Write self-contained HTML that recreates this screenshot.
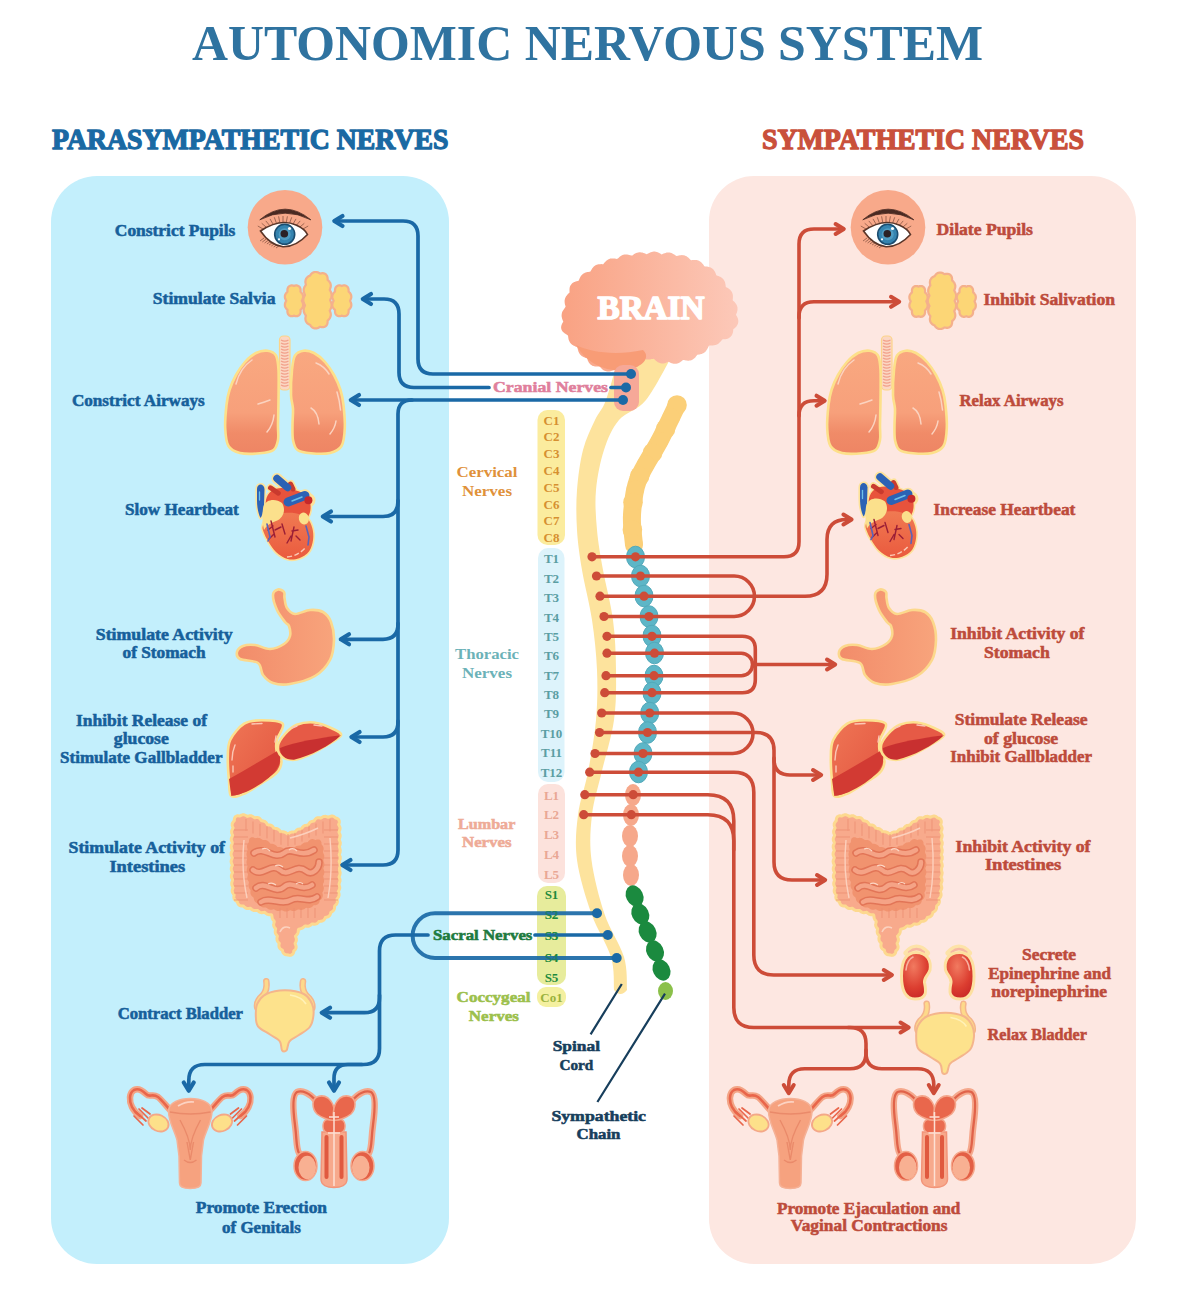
<!DOCTYPE html><html><head><meta charset="utf-8"><style>
html,body{margin:0;padding:0;background:#fff;width:1200px;height:1292px;overflow:hidden}
svg{display:block}
text{font-family:"Liberation Serif",serif}
</style></head><body>
<svg width="1200" height="1292" viewBox="0 0 1200 1292">
<rect x="51" y="176" width="398" height="1088" rx="46" fill="#c3effc"/>
<rect x="709" y="176" width="427" height="1088" rx="45" fill="#fde7e1"/>
<text x="192" y="60" font-size="51" fill="#2f73a0" text-anchor="start" font-weight="bold" textLength="791" lengthAdjust="spacingAndGlyphs" >AUTONOMIC NERVOUS SYSTEM</text>
<text x="52" y="149" font-size="28.5" fill="#1a69a3" text-anchor="start" font-weight="bold" textLength="396.5" lengthAdjust="spacingAndGlyphs" stroke="#1a69a3" stroke-width="1.3" stroke-linejoin="round">PARASYMPATHETIC NERVES</text>
<text x="762" y="149" font-size="28.5" fill="#c9503b" text-anchor="start" font-weight="bold" textLength="322" lengthAdjust="spacingAndGlyphs" stroke="#c9503b" stroke-width="1.3" stroke-linejoin="round">SYMPATHETIC NERVES</text>
<defs>
<g id="o_eye"><circle cx="285" cy="227.3" r="37.3" fill="#f8a98a"/>
<path d="M263.0,229.0 L257.8,226.0 M266.3,227.2 L261.7,223.3 M269.7,225.5 L265.8,220.9 M273.0,224.1 L270.0,218.9 M276.3,222.9 L274.3,217.3 M279.7,222.2 L278.6,216.3 M283.0,222.0 L283.0,216.0 M286.3,222.2 L287.4,216.3 M289.7,222.9 L291.7,217.3 M293.0,224.1 L296.0,218.9 M296.3,225.5 L300.2,220.9 M299.7,227.2 L304.3,223.3 M303.0,229.0 L308.2,226.0 M264.0,238.0 L260.0,241.0 M266.3,239.0 L262.3,242.0 M268.6,240.0 L264.6,243.0 M270.9,241.0 L266.9,244.0 M273.1,242.0 L269.1,245.0 M275.4,243.0 L271.4,246.0 M277.7,244.0 L273.7,247.0 M280.0,245.0 L276.0,248.0" stroke="#7a4a3a" stroke-width="0.8" opacity="0.85"/>
<path d="M259.8,219.8 Q285,198.5 310.8,219.8 Q285,206.5 259.8,219.8 Z" fill="#4a2a22" stroke="#4a2a22" stroke-width="0.8" stroke-linejoin="round"/>
<path d="M260.5,231 Q280,218 296,225 Q305,229 307.5,234.5 Q296,247 283,246.8 Q270,245 260.5,231 Z" fill="#ffffff" stroke="#5a3528" stroke-width="1.6"/>
<circle cx="284.7" cy="234.3" r="10" fill="#3584b0" stroke="#1b4d70" stroke-width="1.6"/>
<circle cx="284.7" cy="234.3" r="6" fill="#4f9cc2"/>
<circle cx="284.3" cy="233.7" r="3.8" fill="#2b2226"/>
<circle cx="289.5" cy="228.5" r="1.6" fill="#ffffff"/>
<circle cx="279" cy="239.3" r="1.1" fill="#ffffff"/></g>
<g id="o_lungs"><defs><linearGradient id="lungg" x1="0" y1="0" x2="0" y2="1"><stop offset="0" stop-color="#f9a880"/><stop offset="0.6" stop-color="#f7a07b"/><stop offset="0.8" stop-color="#f08b68"/><stop offset="1" stop-color="#ee8564"/></linearGradient></defs>
<rect x="279.5" y="336" width="10.5" height="54" rx="4" fill="#fbd7c4" stroke="#fcd48a" stroke-width="1.2"/>
<path d="M281,340 Q284.75,342.2 288.5,340 M281,343 Q284.75,345.2 288.5,343 M281,346 Q284.75,348.2 288.5,346 M281,349 Q284.75,351.2 288.5,349 M281,352 Q284.75,354.2 288.5,352 M281,355 Q284.75,357.2 288.5,355 M281,358 Q284.75,360.2 288.5,358 M281,361 Q284.75,363.2 288.5,361 M281,364 Q284.75,366.2 288.5,364 M281,367 Q284.75,369.2 288.5,367 M281,370 Q284.75,372.2 288.5,370 M281,373 Q284.75,375.2 288.5,373 M281,376 Q284.75,378.2 288.5,376 M281,379 Q284.75,381.2 288.5,379 M281,382 Q284.75,384.2 288.5,382 M281,385 Q284.75,387.2 288.5,385" stroke="#f2a08a" stroke-width="1.3" fill="none"/>
<path d="M267.5,350.7 C270.8,351.1 274.2,352.3 276,355.5 C277.8,358.7 278.1,362.6 278.5,370 C278.9,377.4 278.6,390.8 278.5,400 C278.4,409.2 278.1,418.3 278,425 C277.9,431.7 278.8,435.8 278,440 C277.2,444.2 276.5,447.8 273.5,450 C270.5,452.2 265.6,452.8 260,453.3 C254.4,453.8 245.2,454.2 240,453 C234.8,451.8 231.0,450.2 228.5,446 C226.0,441.8 225.5,434.8 225.2,428 C224.9,421.2 225.8,411.3 226.5,405 C227.2,398.7 227.9,395.0 229.5,390 C231.1,385.0 233.4,379.7 236,375 C238.6,370.3 241.7,365.7 245,362 C248.3,358.3 252.2,354.9 256,353 C259.8,351.1 264.2,350.3 267.5,350.7 Z" fill="url(#lungg)" stroke="#fde08a" stroke-width="2.6"/>
<path d="M303.7,350.7 C300.5,351.1 296.9,352.3 295,355.5 C293.1,358.7 292.7,363.4 292,370 C291.3,376.6 290.8,388.5 291,395 C291.2,401.5 292.8,404.0 293,409 C293.2,414.0 292.5,419.8 292.5,425 C292.5,430.2 292.2,435.8 293,440 C293.8,444.2 294.5,447.8 297.5,450 C300.5,452.2 305.6,452.8 311,453.3 C316.4,453.8 324.9,454.2 330,453 C335.1,451.8 339.0,450.2 341.5,446 C344.0,441.8 344.5,434.8 344.8,428 C345.1,421.2 344.2,411.3 343.5,405 C342.8,398.7 342.1,395.0 340.5,390 C338.9,385.0 336.6,379.7 334,375 C331.4,370.3 328.3,365.7 325,362 C321.7,358.3 317.6,354.9 314,353 C310.4,351.1 306.9,350.3 303.7,350.7 Z" fill="url(#lungg)" stroke="#fde08a" stroke-width="2.6"/>
<path d="M236,384 Q240,368 252,360 M258,404 Q265,402 270,400 M274,415 Q273,425 267,432 M316,363 Q324,366 329,374 M337,392 Q339.5,400 340.5,410 M311,408 Q318,412 319,424 M336,421 Q335,428 330,434" stroke="#fbd3c0" stroke-width="1.5" fill="none" stroke-linecap="round"/></g>
<g id="o_heart"><g fill="#fde29a" stroke="#fde29a" stroke-width="3.2" stroke-linejoin="round" stroke-linecap="round">
<path d="M262.8,525.7 C263.6,523.1 265.4,518.5 268.2,516.4 C271.0,514.3 275.3,513.8 279.8,513.3 C284.3,512.8 290.8,512.5 295.3,513.3 C299.8,514.1 304.1,515.5 306.9,518 C309.7,520.5 311.3,524.4 312.3,528 C313.3,531.6 313.6,535.7 313.1,539.6 C312.6,543.5 311.5,548.1 309.2,551.2 C306.9,554.3 302.8,556.9 299.2,558.2 C295.6,559.5 291.5,560.0 287.6,559 C283.7,558.0 279.2,555.0 276,552 C272.8,549.0 270.3,544.6 268.2,541.2 C266.1,537.9 264.5,534.5 263.6,531.9 C262.7,529.3 262.0,528.3 262.8,525.7 Z"/><path d="M266,500 C268,490 278,486 288,489 C298,490 307,493 310,502 C312,510 309,518 304,521 L268,522 C265,514 265,506 266,500 Z"/><path d="M257,489 C257,483 264,483 264.5,489 L264,505 C263.5,512 262,516 260.5,518 C258.5,514 257,508 257,500 Z"/>
<path d="M277,478.5 L287.5,487.5" stroke-width="11"/><path d="M288,502 L305,495.5" stroke-width="12.5"/><circle cx="308.4" cy="500.2" r="5.5"/><path d="M270.5,487.8 L278.3,493.2 M290.6,484 L293,489" stroke-width="8"/>
</g>
<defs><linearGradient id="hrtg" x1="0" y1="0" x2="0" y2="1"><stop offset="0" stop-color="#f07a52"/><stop offset="1" stop-color="#ea5a3e"/></linearGradient></defs>
<path d="M266,500 C268,490 278,486 288,489 C298,490 307,493 310,502 C312,510 309,518 304,521 L268,522 C265,514 265,506 266,500 Z" fill="#e8533c"/>
<path d="M262.8,525.7 C263.6,523.1 265.4,518.5 268.2,516.4 C271.0,514.3 275.3,513.8 279.8,513.3 C284.3,512.8 290.8,512.5 295.3,513.3 C299.8,514.1 304.1,515.5 306.9,518 C309.7,520.5 311.3,524.4 312.3,528 C313.3,531.6 313.6,535.7 313.1,539.6 C312.6,543.5 311.5,548.1 309.2,551.2 C306.9,554.3 302.8,556.9 299.2,558.2 C295.6,559.5 291.5,560.0 287.6,559 C283.7,558.0 279.2,555.0 276,552 C272.8,549.0 270.3,544.6 268.2,541.2 C266.1,537.9 264.5,534.5 263.6,531.9 C262.7,529.3 262.0,528.3 262.8,525.7 Z" fill="url(#hrtg)"/>
<path d="M270.5,487.8 L278.3,493.2 M290.6,484 L293,489" stroke="#c93a2e" stroke-width="5" stroke-linecap="round"/>
<path d="M257,489 C257,483 264,483 264.5,489 L264,505 C263.5,512 262,516 260.5,518 C258.5,514 257,508 257,500 Z" fill="#2c62b5"/>
<path d="M259.5,492 L259.5,500" stroke="#6ec0ea" stroke-width="1.3" stroke-linecap="round"/>
<path d="M277,478.5 L287.5,487.5" stroke="#2c62b5" stroke-width="7.5" stroke-linecap="round"/>
<path d="M288,502 L305,495.5" stroke="#2c62b5" stroke-width="9" stroke-linecap="round"/>
<path d="M292,501 L302,497" stroke="#6ec0ea" stroke-width="1.5" stroke-linecap="round"/>
<circle cx="308.4" cy="500.2" r="4" fill="#c6282a"/>
<path d="M263.5,506 C266,499 276,498 282,503 C286,509 284,518 276,521 C270,523 266,526 264,530 C262,522 262,512 263.5,506 Z" fill="#fbe08c"/>
<ellipse cx="303.8" cy="518.5" rx="5" ry="6" fill="#fbe08c" transform="rotate(-15 303.8 518.5)"/>
<path d="M271,521 L275,537 M273,526 L268,530 M275,530 L281,527 M274,534 L269,539 M282,524 L285,534 M294,527 L291,541 M292,531 L298,530 M291,536 L287,543 M296,536 L300,540" stroke="#9a1e36" stroke-width="1.4" fill="none" stroke-linecap="round"/>
<path d="M267,524 L270,537 L268,541 M306,526 L309,537 L308,545" stroke="#5a63b8" stroke-width="1.6" fill="none" stroke-linecap="round"/>
<path d="M287,557 Q298,556 305,548" stroke="#fbc9b5" stroke-width="1.5" fill="none" stroke-dasharray="5 2.5"/></g>
<g id="o_stomach"><defs><linearGradient id="stg" x1="0" x2="1"><stop offset="0" stop-color="#f28c6a"/><stop offset="1" stop-color="#f8a47c"/></linearGradient></defs><path d="M278,589.5 C279.8,589.0 282.9,590.6 284,592 C285.1,593.4 284.0,595.3 284.5,598 C285.0,600.7 285.2,605.3 287,608 C288.8,610.7 291.2,613.7 295,614 C298.8,614.3 305.3,610.3 310,610 C314.7,609.7 319.5,610.0 323,612 C326.5,614.0 329.2,617.3 331,622 C332.8,626.7 334.2,633.7 334,640 C333.8,646.3 333.2,654.0 330,660 C326.8,666.0 321.7,672.0 315,676 C308.3,680.0 297.0,682.8 290,684 C283.0,685.2 277.5,684.5 273,683 C268.5,681.5 265.5,678.3 263,675 C260.5,671.7 261.8,665.7 258,663 C254.2,660.3 243.5,660.8 240,659 C236.5,657.2 236.5,654.2 237,652 C237.5,649.8 240.0,647.2 243,646 C246.0,644.8 250.5,644.5 255,645 C259.5,645.5 265.2,649.2 270,649 C274.8,648.8 280.7,646.2 284,644 C287.3,641.8 289.2,639.0 290,636 C290.8,633.0 289.8,628.3 289,626 C288.2,623.7 287.0,624.7 285,622 C283.0,619.3 279.0,614.5 277,610 C275.0,605.5 272.8,598.4 273,595 C273.2,591.6 276.2,590.0 278,589.5 Z" fill="url(#stg)" stroke="#fcd88c" stroke-width="2.6" stroke-linejoin="round"/></g>
<g id="o_liver"><defs><linearGradient id="livg" x1="0" y1="0" x2="1" y2="1"><stop offset="0" stop-color="#ef7655"/><stop offset="1" stop-color="#e2533f"/></linearGradient></defs>
<path d="M282.7,723.7 C280.2,720.4 268.1,720.2 261.7,720.2 C255.3,720.2 249.4,720.4 244.2,723.7 C238.9,727.0 232.9,734.4 230.2,740 C227.5,745.6 228.0,750.7 227.8,757.5 C227.6,764.3 228.4,774.4 229,780.8 C229.6,787.2 228.8,793.9 231.3,796 C233.8,798.1 239.1,795.8 244.2,793.7 C249.3,791.6 256.3,786.7 261.7,783.2 C267.1,779.7 273.5,776.4 276.8,772.7 C280.1,769.0 281.5,764.5 281.5,761 C281.5,757.5 277.6,755.2 276.8,751.7 C276.0,748.2 275.8,744.7 276.8,740 C277.8,735.3 285.2,727.0 282.7,723.7 Z" fill="url(#livg)" stroke="#fde08f" stroke-width="2.6"/>
<path d="M229,779 C245,770 262,760 279,750 C283,762 278,772 262,783 C250,791 240,795 231.3,796 Z" fill="#d23a33"/>
<path d="M285,734 C288.1,730.5 291.8,726.7 296.7,724.8 C301.6,722.9 308.4,721.9 314.2,722.5 C320.0,723.1 327.2,726.2 331.7,728.3 C336.2,730.4 342.0,732.4 341,735.3 C340.0,738.2 331.2,742.5 325.8,745.8 C320.4,749.1 313.6,752.9 308.3,755.2 C303.1,757.5 298.8,759.6 294.3,759.8 C289.8,760.0 284.2,758.6 281.5,756.3 C278.8,754.0 277.4,749.5 278,745.8 C278.6,742.1 281.9,737.5 285,734 Z" fill="#e65a46" stroke="#fde08f" stroke-width="2.6"/>
<path d="M280,748 C295,742 320,738 341,735.3 C330,746 310,756 294,759.8 C285,760 280,755 280,748 Z" fill="#c83030"/>
<path d="M252,724 L262,723.5 M235,745 Q232,752 232,760 M233,766 L233,772 M276,736 L275,742 M292,728 L297,726 M314,725 L322,726" stroke="#fbc7b5" stroke-width="1.4" fill="none" stroke-linecap="round"/></g>
<g id="o_int"><path d="M239.8,816.1 L240.1,815.9 L240.5,815.6 L240.9,815.4 L241.4,815.1 L241.9,815.0 L242.5,814.8 L243.1,814.7 L243.7,814.7 L244.3,814.9 L244.9,815.1 L245.5,815.3 L246.2,815.7 L246.8,816.2 L247.5,816.4 L248.2,816.1 L249.0,815.9 L249.7,815.8 L250.4,815.7 L251.1,815.8 L251.8,816.0 L252.4,816.3 L253.0,816.7 L253.6,817.1 L254.1,817.5 L254.7,817.8 L255.3,817.7 L255.9,817.6 L256.5,817.5 L257.0,817.5 L257.5,817.5 L257.9,817.6 L258.4,817.7 L258.8,817.9 L259.2,818.1 L259.6,818.4 L260.0,818.8 L260.3,819.2 L260.6,819.6 L260.9,820.1 L261.2,820.6 L261.7,820.8 L262.2,820.8 L262.8,820.9 L263.3,821.0 L263.8,821.1 L264.3,821.3 L264.8,821.5 L265.2,821.8 L265.6,822.1 L266.0,822.5 L266.3,822.9 L266.6,823.3 L266.9,823.8 L267.2,824.3 L267.5,824.8 L267.9,824.9 L268.5,824.9 L269.0,824.9 L269.5,825.0 L270.0,825.0 L270.5,825.2 L271.0,825.3 L271.5,825.6 L272.0,825.9 L272.5,826.4 L273.0,826.9 L273.4,827.5 L273.8,828.2 L274.5,828.5 L275.4,828.5 L276.2,828.5 L277.0,828.7 L277.7,829.0 L278.4,829.3 L279.0,829.8 L279.6,830.4 L280.1,831.1 L280.6,831.8 L281.5,831.8 L282.3,831.8 L283.1,831.8 L283.8,831.9 L284.4,832.0 L285.0,832.3 L285.6,832.6 L286.1,832.9 L286.6,833.3 L287.1,833.7 L287.6,834.0 L288.1,833.9 L288.6,833.6 L289.0,833.3 L289.5,833.0 L290.0,832.7 L290.6,832.4 L291.2,832.2 L291.8,832.1 L292.5,832.0 L293.3,832.1 L294.1,832.1 L294.9,832.1 L295.4,831.4 L296.0,830.8 L296.5,830.2 L297.1,829.7 L297.8,829.3 L298.6,829.1 L299.4,828.9 L300.2,828.9 L301.1,828.8 L301.7,828.5 L302.2,827.8 L302.6,827.2 L303.1,826.6 L303.6,826.2 L304.2,825.9 L304.7,825.6 L305.3,825.5 L305.8,825.4 L306.3,825.3 L306.9,825.3 L307.4,825.3 L307.9,825.3 L308.2,824.9 L308.5,824.4 L308.8,823.9 L309.1,823.5 L309.4,823.1 L309.7,822.7 L310.1,822.3 L310.5,822.0 L310.9,821.8 L311.4,821.6 L311.9,821.4 L312.5,821.3 L313.0,821.2 L313.6,821.1 L314.1,821.0 L314.4,820.5 L314.7,820.0 L315.0,819.6 L315.3,819.2 L315.7,818.8 L316.0,818.5 L316.4,818.2 L316.9,818.0 L317.3,817.8 L317.8,817.7 L318.3,817.7 L318.8,817.7 L319.2,817.7 L319.8,817.8 L320.3,818.0 L320.9,818.2 L321.4,817.8 L322.0,817.4 L322.6,817.0 L323.2,816.7 L323.8,816.5 L324.5,816.4 L325.2,816.3 L326.0,816.5 L326.7,816.7 L327.5,817.0 L328.2,817.3 L328.9,817.0 L329.6,816.6 L330.3,816.4 L331.0,816.2 L331.7,816.1 L332.3,816.1 L333.0,816.2 L333.6,816.4 L334.1,816.7 L334.6,817.1 L335.1,817.5 L335.4,817.9 L335.8,818.1 L336.3,818.1 L336.7,818.2 L337.1,818.4 L337.5,818.6 L337.9,818.8 L338.2,819.1 L338.5,819.5 L338.8,819.9 L339.0,820.3 L339.2,820.7 L339.3,821.2 L339.3,821.7 L339.3,822.2 L339.2,822.8 L339.1,823.3 L338.9,823.9 L338.6,824.5 L338.9,825.1 L339.2,825.7 L339.5,826.3 L339.8,826.9 L340.0,827.6 L340.1,828.3 L340.0,829.1 L339.8,829.9 L339.5,830.7 L339.1,831.5 L339.0,832.3 L339.4,833.2 L339.8,834.1 L340.1,835.0 L340.2,836.0 L340.0,837.0 L339.6,838.3 L339.1,839.7 L339.8,841.2 L340.3,842.8 L340.1,844.6 L339.3,846.4 L339.8,848.4 L340.3,850.4 L340.0,852.5 L339.2,854.7 L340.2,856.9 L340.2,859.2 L339.2,861.4 L340.0,863.7 L340.3,866.0 L339.5,868.3 L339.6,870.6 L340.2,872.8 L339.8,875.0 L339.0,877.1 L339.9,879.2 L340.0,881.1 L339.3,883.0 L339.0,884.8 L339.6,886.5 L339.8,888.0 L339.4,889.4 L338.8,890.6 L338.3,891.7 L338.7,892.8 L339.0,893.8 L339.1,894.8 L339.0,895.7 L338.7,896.6 L338.2,897.4 L337.6,898.2 L337.0,898.9 L337.2,899.8 L337.3,900.7 L337.4,901.5 L337.3,902.3 L337.1,903.0 L336.8,903.7 L336.4,904.3 L335.8,904.8 L335.3,905.3 L334.7,905.8 L334.6,906.4 L334.6,907.1 L334.5,907.8 L334.5,908.4 L334.3,909.0 L334.1,909.5 L333.8,910.0 L333.5,910.5 L333.2,910.8 L332.7,911.2 L332.3,911.5 L331.9,911.8 L331.4,912.1 L330.9,912.3 L330.7,912.8 L330.6,913.4 L330.4,914.0 L330.2,914.5 L330.0,915.0 L329.6,915.5 L329.3,915.9 L328.8,916.3 L328.3,916.6 L327.8,916.9 L327.2,917.1 L326.6,917.2 L325.9,917.3 L325.4,917.5 L325.1,918.1 L324.8,918.7 L324.4,919.2 L324.1,919.7 L323.7,920.1 L323.2,920.5 L322.8,920.7 L322.3,921.0 L321.7,921.1 L321.2,921.3 L320.6,921.3 L320.1,921.4 L319.5,921.4 L319.0,921.5 L318.7,921.9 L318.3,922.4 L317.9,922.8 L317.4,923.3 L316.8,923.6 L316.2,923.9 L315.5,924.1 L314.8,924.2 L314.0,924.2 L313.2,924.0 L312.4,923.9 L311.7,924.2 L311.0,924.8 L310.4,925.3 L309.7,925.7 L309.0,926.0 L308.2,926.2 L307.5,926.2 L306.7,926.2 L305.9,926.0 L305.1,925.9 L304.5,926.3 L304.0,926.8 L303.5,927.2 L303.1,927.6 L302.6,927.9 L302.2,928.2 L301.8,928.4 L301.4,928.5 L301.1,928.6 L300.8,928.7 L300.5,928.8 L300.1,928.9 L299.8,928.9 L299.4,929.0 L299.1,929.2 L298.7,929.3 L298.5,929.5 L298.4,929.9 L298.4,930.3 L298.3,930.7 L298.3,931.0 L298.3,931.4 L298.2,931.7 L298.2,932.0 L298.1,932.3 L298.0,932.7 L297.9,933.0 L297.8,933.2 L297.7,933.5 L297.5,933.8 L297.3,934.1 L297.1,934.4 L296.9,934.6 L296.7,934.9 L296.4,935.2 L296.2,935.4 L296.0,935.7 L295.7,935.9 L295.5,936.2 L295.6,936.6 L295.8,936.9 L295.9,937.3 L296.0,937.7 L296.2,938.2 L296.3,938.6 L296.3,939.1 L296.4,939.6 L296.4,940.1 L296.3,940.6 L296.1,941.1 L296.0,941.6 L295.7,942.2 L295.4,942.7 L295.1,943.2 L295.1,943.8 L295.4,944.3 L295.6,944.9 L295.8,945.4 L296.0,946.0 L296.1,946.5 L296.1,947.0 L296.1,947.5 L296.0,947.9 L295.9,948.4 L295.7,948.8 L295.5,949.2 L295.3,949.5 L295.0,949.8 L294.8,950.1 L294.6,950.3 L294.3,950.5 L294.0,950.7 L293.8,950.9 L293.8,951.3 L293.8,951.6 L293.7,952.0 L293.6,952.3 L293.5,952.7 L293.4,953.0 L293.2,953.3 L293.0,953.6 L292.8,953.9 L292.6,954.2 L292.3,954.4 L292.0,954.6 L291.8,954.8 L291.5,955.0 L291.2,955.1 L290.8,955.2 L290.5,955.3 L290.2,955.3 L289.9,955.4 L289.6,955.3 L289.3,955.3 L289.0,955.3 L288.7,955.2 L288.5,955.1 L288.3,955.0 L288.1,954.9 L287.9,954.8 L287.7,954.8 L287.4,954.9 L287.1,954.9 L286.8,954.8 L286.4,954.8 L286.1,954.8 L285.7,954.7 L285.4,954.6 L285.0,954.4 L284.7,954.2 L284.4,954.0 L284.0,953.8 L283.7,953.5 L283.5,953.2 L283.2,952.8 L283.0,952.4 L282.8,952.0 L282.7,951.6 L282.6,951.1 L282.5,950.7 L282.4,950.2 L282.1,949.9 L281.6,949.7 L281.2,949.5 L280.8,949.2 L280.4,948.9 L280.1,948.6 L279.8,948.3 L279.6,947.9 L279.3,947.5 L279.2,947.1 L279.0,946.6 L279.0,946.0 L278.9,945.4 L279.0,944.7 L279.1,944.0 L279.3,943.3 L278.8,942.8 L278.2,942.2 L277.8,941.6 L277.4,940.9 L277.1,940.2 L277.0,939.4 L276.9,938.7 L277.0,937.9 L277.2,937.0 L277.4,936.2 L277.0,935.6 L276.5,934.9 L276.0,934.3 L275.6,933.6 L275.4,933.0 L275.3,932.3 L275.2,931.7 L275.3,931.1 L275.3,930.5 L275.5,929.9 L275.6,929.3 L275.7,928.8 L275.3,928.4 L275.0,928.0 L274.6,927.6 L274.4,927.1 L274.1,926.7 L273.9,926.2 L273.7,925.7 L273.7,925.2 L273.6,924.6 L273.7,924.1 L273.8,923.5 L273.9,923.0 L274.1,922.4 L274.3,921.9 L274.2,921.3 L273.9,920.9 L273.5,920.4 L273.2,920.0 L272.9,919.6 L272.7,919.2 L272.5,918.8 L272.3,918.4 L272.2,918.0 L272.1,917.6 L272.0,917.3 L272.0,916.9 L272.0,916.5 L271.9,916.1 L271.9,915.8 L271.8,915.4 L271.7,915.0 L271.4,914.8 L270.9,914.8 L270.5,914.7 L270.0,914.7 L269.5,914.7 L269.0,914.7 L268.6,914.6 L268.1,914.5 L267.6,914.4 L267.1,914.1 L266.6,913.8 L266.1,913.5 L265.6,913.1 L265.1,912.6 L264.7,912.2 L264.0,912.4 L263.3,912.5 L262.7,912.6 L262.1,912.7 L261.5,912.7 L260.9,912.6 L260.3,912.4 L259.8,912.2 L259.3,911.9 L258.8,911.6 L258.3,911.2 L257.9,910.8 L257.5,910.4 L257.0,910.4 L256.5,910.5 L256.0,910.6 L255.4,910.6 L254.8,910.6 L254.2,910.6 L253.6,910.5 L253.0,910.2 L252.4,909.9 L251.8,909.5 L251.2,909.0 L250.7,908.5 L250.0,908.2 L249.2,908.4 L248.4,908.5 L247.7,908.5 L247.0,908.5 L246.3,908.3 L245.6,908.0 L245.0,907.6 L244.5,907.1 L243.9,906.6 L243.5,906.0 L242.9,905.9 L242.2,905.9 L241.5,905.9 L240.9,905.9 L240.4,905.7 L239.9,905.6 L239.4,905.3 L239.0,905.0 L238.7,904.7 L238.4,904.4 L238.2,904.0 L238.0,903.6 L237.8,903.2 L237.6,902.8 L237.5,902.4 L237.4,901.9 L237.2,901.5 L236.8,901.3 L236.4,901.1 L236.0,900.9 L235.6,900.6 L235.2,900.3 L234.9,899.9 L234.6,899.6 L234.3,899.1 L234.1,898.7 L234.0,898.2 L233.9,897.7 L233.8,897.1 L233.9,896.5 L234.0,895.9 L234.1,895.3 L234.1,894.7 L233.7,894.2 L233.3,893.7 L232.9,893.1 L232.6,892.5 L232.3,891.9 L232.2,891.2 L232.2,890.3 L232.4,889.4 L232.8,888.4 L233.1,887.3 L232.4,886.2 L231.9,885.1 L231.7,883.8 L231.8,882.5 L232.3,881.2 L232.6,879.8 L231.9,878.4 L231.4,877.0 L231.4,875.5 L231.9,874.0 L232.6,872.6 L231.8,871.1 L231.3,869.6 L231.3,868.2 L231.7,866.7 L232.4,865.3 L231.8,863.9 L231.3,862.6 L231.1,861.2 L231.4,860.0 L231.9,858.7 L232.3,857.6 L231.7,856.5 L231.3,855.5 L231.1,854.5 L231.1,853.6 L231.3,852.6 L231.7,851.6 L232.3,850.5 L231.9,849.4 L231.5,848.3 L231.2,847.1 L231.2,846.0 L231.5,844.8 L232.1,843.6 L232.3,842.4 L231.7,841.2 L231.3,839.9 L231.3,838.7 L231.6,837.5 L232.2,836.4 L232.6,835.2 L232.1,834.0 L231.7,832.9 L231.6,831.8 L231.7,830.7 L232.1,829.7 L232.6,828.8 L233.1,827.9 L232.7,827.0 L232.4,826.1 L232.2,825.3 L232.2,824.6 L232.2,823.9 L232.4,823.4 L232.6,822.9 L232.9,822.4 L233.2,822.0 L233.5,821.6 L233.8,821.2 L234.2,820.9 L234.4,820.5 L234.3,820.1 L234.3,819.6 L234.4,819.2 L234.4,818.8 L234.5,818.4 L234.6,818.0 L234.8,817.7 L235.0,817.4 L235.2,817.1 L235.4,816.8 L235.7,816.6 L236.0,816.3 L236.3,816.2 L236.7,816.0 L237.0,815.9 L237.3,815.9 L237.7,815.8 L238.0,815.8 L238.4,815.8 L238.7,815.9 L239.1,815.9 L239.4,816.0 Z" fill="#f8aa8c" stroke="#fdd98f" stroke-width="3" stroke-linejoin="round"/>
<path d="M249.0,842.0 L248.9,841.2 L249.0,840.5 L249.1,839.8 L249.3,839.2 L249.6,838.6 L250.0,838.1 L250.5,837.8 L251.0,837.5 L251.5,837.3 L252.1,837.2 L252.7,837.2 L253.2,837.3 L253.7,837.4 L254.2,837.7 L254.7,837.9 L255.2,838.2 L255.7,838.0 L256.3,837.9 L256.9,837.9 L257.4,837.8 L258.0,837.8 L258.5,837.9 L259.0,838.0 L259.5,838.1 L260.0,838.3 L260.5,838.5 L260.9,838.8 L261.3,839.0 L261.7,839.3 L262.1,839.6 L262.5,839.8 L262.9,840.1 L263.3,840.1 L263.8,840.1 L264.4,840.0 L264.9,840.0 L265.4,840.1 L265.9,840.1 L266.4,840.3 L266.9,840.4 L267.3,840.6 L267.7,840.9 L268.2,841.2 L268.5,841.5 L268.9,841.9 L269.3,842.3 L269.6,842.7 L269.9,843.2 L270.2,843.6 L270.8,843.7 L271.3,843.7 L271.8,843.8 L272.4,843.8 L272.9,843.9 L273.3,844.0 L273.8,844.2 L274.2,844.4 L274.6,844.6 L275.0,844.8 L275.4,845.0 L275.8,845.3 L276.2,845.6 L276.5,846.0 L276.9,846.3 L277.2,846.7 L277.6,847.1 L278.1,847.0 L278.6,847.0 L279.1,847.0 L279.6,847.1 L280.1,847.1 L280.6,847.2 L281.0,847.3 L281.4,847.4 L281.9,847.6 L282.3,847.8 L282.7,848.0 L283.0,848.2 L283.4,848.5 L283.8,848.7 L284.2,849.0 L284.5,849.3 L284.9,849.6 L285.4,849.7 L285.8,849.6 L286.3,849.4 L286.7,849.3 L287.1,849.2 L287.6,849.0 L288.0,848.9 L288.4,848.8 L288.8,848.7 L289.2,848.7 L289.6,848.6 L290.1,848.6 L290.5,848.6 L291.0,848.7 L291.5,848.7 L292.1,848.8 L292.6,848.8 L293.1,848.8 L293.5,848.4 L293.9,848.0 L294.3,847.6 L294.7,847.2 L295.1,846.9 L295.6,846.6 L296.0,846.3 L296.5,846.1 L297.0,846.0 L297.5,845.8 L298.0,845.7 L298.5,845.7 L299.1,845.6 L299.6,845.6 L300.2,845.6 L300.6,845.4 L301.0,845.0 L301.4,844.7 L301.7,844.3 L302.1,844.0 L302.5,843.7 L302.8,843.4 L303.2,843.2 L303.6,843.0 L304.1,842.8 L304.5,842.6 L305.0,842.5 L305.5,842.4 L306.0,842.3 L306.5,842.2 L307.0,842.2 L307.5,842.2 L307.9,841.9 L308.2,841.5 L308.5,841.1 L308.9,840.8 L309.2,840.4 L309.6,840.1 L309.9,839.9 L310.3,839.6 L310.7,839.4 L311.1,839.3 L311.6,839.2 L312.0,839.1 L312.4,839.1 L312.8,839.1 L313.2,839.2 L313.6,839.2 L314.0,839.4 L314.4,839.5 L314.7,839.7 L315.0,839.9 L315.3,840.0 L315.7,839.9 L316.0,839.8 L316.3,839.7 L316.7,839.6 L317.0,839.5 L317.4,839.4 L317.7,839.4 L318.1,839.4 L318.5,839.5 L318.8,839.5 L319.2,839.6 L319.6,839.8 L319.9,840.0 L320.2,840.3 L320.5,840.6 L320.8,840.9 L321.0,841.3 L321.2,841.7 L321.4,842.2 L321.5,842.7 L321.5,843.2 L321.5,843.7 L321.5,844.3 L321.9,844.7 L322.3,845.3 L322.7,845.8 L323.1,846.5 L323.4,847.2 L323.6,848.0 L323.6,848.9 L323.6,849.8 L323.3,850.8 L323.0,851.9 L323.2,852.9 L323.7,854.0 L324.1,855.1 L324.3,856.2 L324.2,857.4 L323.9,858.6 L323.4,859.8 L323.5,861.0 L324.0,862.2 L324.3,863.4 L324.4,864.7 L324.2,865.9 L323.8,867.1 L323.3,868.3 L323.7,869.5 L324.1,870.7 L324.3,871.8 L324.3,873.0 L324.1,874.1 L323.7,875.1 L323.2,876.1 L323.3,877.1 L323.7,878.0 L323.9,878.9 L324.1,879.8 L324.1,880.7 L324.0,881.6 L323.8,882.4 L323.4,883.3 L323.0,884.1 L323.0,885.0 L323.3,885.8 L323.6,886.6 L323.8,887.4 L323.8,888.3 L323.8,889.1 L323.6,889.8 L323.4,890.6 L323.0,891.3 L322.7,892.0 L322.3,892.7 L322.5,893.4 L322.7,894.2 L322.8,894.9 L322.8,895.6 L322.7,896.3 L322.6,897.0 L322.3,897.6 L322.0,898.2 L321.6,898.8 L321.2,899.2 L320.7,899.7 L320.1,900.1 L319.8,900.6 L319.7,901.2 L319.5,901.8 L319.3,902.4 L319.0,902.9 L318.7,903.4 L318.3,903.8 L317.9,904.2 L317.4,904.6 L316.9,904.8 L316.3,905.0 L315.7,905.2 L315.1,905.3 L314.5,905.3 L313.9,905.3 L313.4,905.6 L313.0,906.1 L312.5,906.5 L312.0,906.9 L311.5,907.3 L311.0,907.6 L310.4,907.8 L309.8,908.0 L309.1,908.1 L308.5,908.1 L307.8,908.0 L307.1,907.9 L306.4,907.8 L305.7,908.0 L305.1,908.4 L304.5,908.9 L303.8,909.3 L303.1,909.6 L302.4,909.8 L301.6,909.9 L300.8,909.9 L299.9,909.8 L299.0,909.6 L298.1,909.4 L297.3,909.8 L296.5,910.3 L295.7,910.7 L294.8,910.9 L293.9,911.0 L293.0,911.0 L292.1,910.9 L291.2,910.6 L290.3,910.2 L289.4,910.5 L288.5,910.9 L287.6,911.2 L286.7,911.4 L285.8,911.5 L285.0,911.4 L284.1,911.2 L283.2,910.8 L282.4,910.4 L281.6,910.3 L280.7,910.6 L279.9,910.8 L279.1,911.0 L278.3,911.0 L277.5,910.9 L276.7,910.7 L275.9,910.4 L275.1,910.0 L274.4,909.5 L273.6,909.3 L272.7,909.5 L271.8,909.7 L270.9,909.7 L270.1,909.7 L269.3,909.5 L268.5,909.2 L267.8,908.8 L267.1,908.2 L266.4,907.7 L265.7,907.4 L264.8,907.5 L264.0,907.5 L263.1,907.4 L262.4,907.2 L261.6,906.9 L261.0,906.4 L260.4,905.9 L259.9,905.3 L259.4,904.7 L259.0,904.0 L258.4,903.6 L257.7,903.4 L256.9,903.1 L256.3,902.7 L255.7,902.3 L255.2,901.8 L254.7,901.3 L254.4,900.7 L254.1,900.0 L253.9,899.3 L253.8,898.5 L253.7,897.8 L253.1,897.3 L252.5,896.8 L252.0,896.2 L251.5,895.7 L251.0,895.0 L250.7,894.3 L250.5,893.6 L250.4,892.7 L250.4,891.9 L250.5,891.0 L250.6,890.1 L250.0,889.4 L249.5,888.7 L249.0,887.9 L248.7,887.0 L248.5,886.1 L248.4,885.1 L248.6,884.1 L248.8,883.1 L248.9,882.0 L248.3,881.0 L247.7,879.9 L247.4,878.7 L247.3,877.4 L247.6,876.1 L248.0,874.6 L247.6,873.2 L247.0,871.8 L246.7,870.3 L246.9,868.7 L247.3,867.1 L247.5,865.6 L246.8,864.0 L246.5,862.4 L246.6,860.8 L247.1,859.2 L247.4,857.7 L246.8,856.2 L246.5,854.7 L246.6,853.2 L247.0,851.8 L247.6,850.4 L247.5,849.1 L247.1,847.8 L247.0,846.6 L247.1,845.4 L247.4,844.4 L247.9,843.5 L248.4,842.7 Z" fill="#f1936f"/>
<path d="M234,830 L248,830 M324,830 L338,830 M234,837 L248,837 M324,837 L338,837 M234,844 L248,844 M324,844 L338,844 M234,851 L248,851 M324,851 L338,851 M234,858 L248,858 M324,858 L338,858 M234,865 L248,865 M324,865 L338,865 M234,872 L248,872 M324,872 L338,872 M234,879 L248,879 M324,879 L338,879 M234,886 L248,886 M324,886 L338,886 M234,893 L248,893 M324,893 L338,893 M234,900 L248,900 M324,900 L338,900 M246,819.0 L246,831.0 M253,821.5 L253,833.5 M260,823.9 L260,835.9 M267,826.4 L267,838.4 M274,829.6 L274,841.6 M281,832.8 L281,844.8 M288,834.0 L288,846.0 M295,832.8 L295,844.8 M302,829.6 L302,841.6 M309,825.7 L309,837.7 M316,823.6 L316,835.6 M323,821.5 L323,833.5 M330,819.4 L330,831.4 M280,908 L280,918 M287,908 L287,918 M294,908 L294,918 M301,908 L301,918 M308,908 L308,918 M315,908 L315,918" stroke="#ec8d70" stroke-width="1" opacity="0.75"/>
<path d="M244,840 Q241,870 247,898 M330,838 Q333,870 328,898 M290,838 Q306,834 318,828" stroke="#fcd0bd" stroke-width="1.4" fill="none"/>
<path d="M254,853 C264,845 274,861 284,853 C292,846 300,859 314,850 M253,870 C262,878 271,862 280,870 C288,878 296,863 306,871 C312,876 319,869 319,862 M256,888 C265,880 275,895 284,887 C292,879 301,893 312,885 M261,902 C270,896 281,906 291,900 C300,895 308,904 317,897" stroke="#e27557" stroke-width="7.5" fill="none" stroke-linecap="round"/>
<path d="M254,853 C264,845 274,861 284,853 C292,846 300,859 314,850 M253,870 C262,878 271,862 280,870 C288,878 296,863 306,871 C312,876 319,869 319,862 M256,888 C265,880 275,895 284,887 C292,879 301,893 312,885 M261,902 C270,896 281,906 291,900 C300,895 308,904 317,897" stroke="#f5a386" stroke-width="4.5" fill="none" stroke-linecap="round"/>
<path d="M262,849 Q266,847 270,851 M289,850 Q293,847 297,851 M275,866 Q279,864 283,867 M268,884 Q272,882 276,885 M296,884 Q300,881 303,884" stroke="#fcd6c4" stroke-width="1.2" fill="none"/>
<path d="M280,932 Q283,925 290,928" stroke="#fbd2bf" stroke-width="1.5" fill="none"/></g>
<g id="o_bladder"><path d="M266.3,981.3 Q268,992 260,998 Q256,1003 257.3,1008 M303,981.3 Q301,992 309,998 Q313,1003 312.3,1008" stroke="#f4b58c" stroke-width="6.5" fill="none" stroke-linecap="round"/>
<path d="M266.3,981.3 Q268,992 260,998 Q256,1003 257.3,1008 M303,981.3 Q301,992 309,998 Q313,1003 312.3,1008" stroke="#fdd98a" stroke-width="3.5" fill="none" stroke-linecap="round"/>
<path d="M285,990.3 C291.2,990.3 299.3,991.8 303.8,994 C308.3,996.2 310.4,1000.3 312,1003.8 C313.6,1007.3 313.9,1011.1 313.5,1015 C313.1,1018.9 312.3,1023.6 309.8,1027 C307.3,1030.4 301.9,1032.9 298.5,1035.3 C295.1,1037.7 291.5,1038.8 289.5,1041.3 C287.5,1043.8 287.8,1048.8 286.5,1050.3 C285.2,1051.8 283.1,1051.8 282,1050.3 C280.9,1048.8 281.8,1043.9 279.8,1041.3 C277.8,1038.7 273.6,1037.0 270,1034.5 C266.4,1032.0 260.4,1029.5 258,1026.3 C255.6,1023.0 255.9,1018.8 255.8,1015 C255.7,1011.2 255.6,1007.3 257.3,1003.8 C259.1,1000.3 261.7,996.2 266.3,994 C270.9,991.8 278.8,990.3 285,990.3 Z" fill="#fde28c" stroke="#f4b58c" stroke-width="2"/>
<path d="M290,995 Q302,997 306,1004" stroke="#fff1b8" stroke-width="1.6" fill="none"/></g>
<g id="o_uterus"><path d="M171,1111 C166,1106 162,1100 158,1097 C152,1093 150,1098 146,1094 C142,1090 138,1088 134,1090 C129,1093 129,1101 132,1107 C134,1111 137,1114 140,1116 M 209.5 1111.0 C 214.5 1106.0 218.5 1100.0 222.5 1097.0 C 228.5 1093.0 230.5 1098.0 234.5 1094.0 C 238.5 1090.0 242.5 1088.0 246.5 1090.0 C 251.5 1093.0 251.5 1101.0 248.5 1107.0 C 246.5 1111.0 243.5 1114.0 240.5 1116.0" stroke="#f3a486" stroke-width="6.5" fill="none" stroke-linecap="round"/>
<path d="M171,1111 C166,1106 162,1100 158,1097 C152,1093 150,1098 146,1094 C142,1090 138,1088 134,1090 C129,1093 129,1101 132,1107 C134,1111 137,1114 140,1116 M 209.5 1111.0 C 214.5 1106.0 218.5 1100.0 222.5 1097.0 C 228.5 1093.0 230.5 1098.0 234.5 1094.0 C 238.5 1090.0 242.5 1088.0 246.5 1090.0 C 251.5 1093.0 251.5 1101.0 248.5 1107.0 C 246.5 1111.0 243.5 1114.0 240.5 1116.0" stroke="#e9664b" stroke-width="2.6" fill="none" stroke-linecap="round"/>
<path d="M136,1112 L146,1121 M139,1109 L148,1118 M134,1116 L143,1125 M142,1108 L150,1114 M 244.5 1112.0 234.5 1121.0 M 241.5 1109.0 232.5 1118.0 M 246.5 1116.0 237.5 1125.0 M 238.5 1108.0 230.5 1114.0" stroke="#e9664b" stroke-width="1.7" stroke-linecap="round"/>
<ellipse cx="158.5" cy="1123" rx="10.5" ry="8" fill="#fde08a" stroke="#f4a888" stroke-width="1.8" transform="rotate(25 158.5 1123)"/>
<ellipse cx="222" cy="1123" rx="10.5" ry="8" fill="#fde08a" stroke="#f4a888" stroke-width="1.8" transform="rotate(-25 222 1123)"/>
<path d="M168.5,1111 C169,1102 180,1098.5 190.25,1098.5 C200.5,1098.5 211.5,1102 212,1111 C212,1122 206,1130 203.5,1140 L201.5,1156 L201,1183 C201,1187 198,1188.5 190.25,1188.5 C182.5,1188.5 179.5,1187 179.5,1183 L179,1156 L177,1140 C174.5,1130 168.5,1122 168.5,1111 Z" fill="#f6a27f" stroke="#f5b196" stroke-width="1.5"/>
<path d="M170,1112 Q190.25,1116 210.5,1112 M180,1120 Q190,1138 190.25,1150 Q190.5,1138 200.5,1120 M187,1142 L190.25,1160 L193.5,1142 M184,1160 Q190.25,1165 196.5,1160" stroke="#ea8a6a" stroke-width="1.4" fill="none"/>
<path d="M178,1106 Q186,1101 194,1102" stroke="#fcd3c3" stroke-width="1.6" fill="none"/></g>
<g id="o_male"><path d="M316,1101 C310,1093 302,1090 297,1092 C292,1095 293,1110 295,1125 C297,1140 296,1148 299,1153 M352,1101 C358,1093 366,1090 371,1092 C376,1095 375,1110 373,1125 C371,1140 372,1148 369,1153" stroke="#f5a88c" stroke-width="6.5" fill="none" stroke-linecap="round"/>
<path d="M316,1101 C310,1093 302,1090 297,1092 C292,1095 293,1110 295,1125 C297,1140 296,1148 299,1153 M352,1101 C358,1093 366,1090 371,1092 C376,1095 375,1110 373,1125 C371,1140 372,1148 369,1153" stroke="#e0634a" stroke-width="2.3" fill="none" stroke-linecap="round"/>
<path d="M322,1132 L346,1132 L347,1179 C347,1185 341,1187.5 334,1187.5 C327,1187.5 321,1185 321,1179 Z" fill="#f7a98c" stroke="#f29479" stroke-width="1.5"/>
<path d="M326.5,1137 L326.5,1177 M341.5,1137 L341.5,1177" stroke="#e0593f" stroke-width="4" stroke-linecap="round"/>
<rect x="323" y="1119" width="22" height="14" rx="6" fill="#ea6b4f" stroke="#f4a58a" stroke-width="1.5"/>
<path d="M313,1104 C313,1096 322,1094 328,1098 C334,1103 336,1112 334,1120 C330,1121 322,1118 317,1114 C314,1111 313,1108 313,1104 Z" fill="#e9674c" stroke="#f4a58a" stroke-width="1.6"/>
<path d="M355,1104 C355,1096 346,1094 340,1098 C334,1103 332,1112 334,1120 C338,1121 346,1118 351,1114 C354,1111 355,1108 355,1104 Z" fill="#e9674c" stroke="#f4a58a" stroke-width="1.6"/>
<path d="M334,1112 L334,1186 M329,1117 L339,1117 M328,1133 L340,1133" stroke="#fde0d3" stroke-width="1.5"/>
<ellipse cx="305.5" cy="1166" rx="11.5" ry="14.5" fill="#e35f45" stroke="#f5a88c" stroke-width="1.5"/>
<ellipse cx="307.3" cy="1167.5" rx="8.8" ry="11.8" fill="#f8b092"/>
<ellipse cx="362.5" cy="1166" rx="11.5" ry="14.5" fill="#e35f45" stroke="#f5a88c" stroke-width="1.5"/>
<ellipse cx="360.7" cy="1167.5" rx="8.8" ry="11.8" fill="#f8b092"/></g>
</defs>
<use href="#o_eye"/>
<use href="#o_lungs"/>
<use href="#o_heart"/>
<use href="#o_stomach"/>
<use href="#o_liver"/>
<use href="#o_int"/>
<use href="#o_bladder"/>
<use href="#o_uterus"/>
<use href="#o_male"/>
<path d="M301.8,300.8 L301.9,301.0 L302.0,301.2 L302.1,301.4 L302.2,301.6 L302.3,301.9 L302.4,302.1 L302.5,302.3 L302.6,302.5 L302.7,302.8 L302.8,303.0 L302.9,303.2 L302.9,303.4 L303.0,303.7 L303.0,303.9 L303.1,304.1 L303.1,304.3 L303.1,304.6 L303.1,304.8 L303.1,305.0 L303.1,305.2 L303.1,305.4 L303.1,305.7 L303.1,305.9 L303.0,306.1 L303.0,306.3 L302.9,306.5 L302.8,306.7 L302.8,306.9 L302.7,307.1 L302.6,307.2 L302.5,307.4 L302.4,307.6 L302.3,307.8 L302.2,307.9 L302.1,308.1 L302.0,308.3 L301.9,308.4 L301.7,308.6 L301.6,308.7 L301.5,308.9 L301.3,309.0 L301.2,309.2 L301.1,309.3 L300.9,309.4 L300.8,309.6 L300.7,309.7 L300.5,309.8 L300.5,310.0 L300.5,310.1 L300.5,310.3 L300.5,310.5 L300.5,310.7 L300.6,310.8 L300.6,311.0 L300.6,311.2 L300.6,311.4 L300.6,311.5 L300.6,311.7 L300.6,311.9 L300.5,312.0 L300.5,312.2 L300.5,312.4 L300.5,312.5 L300.4,312.7 L300.4,312.9 L300.4,313.0 L300.3,313.2 L300.3,313.3 L300.2,313.5 L300.2,313.6 L300.1,313.7 L300.0,313.9 L299.9,314.0 L299.9,314.2 L299.8,314.3 L299.7,314.4 L299.6,314.5 L299.5,314.7 L299.4,314.8 L299.3,314.9 L299.2,315.0 L299.1,315.1 L299.0,315.2 L298.9,315.3 L298.8,315.4 L298.6,315.5 L298.5,315.6 L298.4,315.6 L298.2,315.7 L298.1,315.8 L298.0,315.8 L297.8,315.9 L297.7,316.0 L297.5,316.0 L297.4,316.0 L297.3,316.1 L297.1,316.1 L297.0,316.1 L296.8,316.2 L296.7,316.2 L296.5,316.2 L296.4,316.2 L296.2,316.2 L296.1,316.2 L295.9,316.2 L295.8,316.2 L295.7,316.1 L295.5,316.1 L295.4,316.1 L295.2,316.1 L295.1,316.0 L295.0,316.0 L294.8,316.0 L294.7,315.9 L294.6,315.9 L294.5,315.8 L294.3,315.8 L294.2,315.7 L294.1,315.7 L294.0,315.6 L293.9,315.7 L293.8,315.7 L293.7,315.8 L293.5,315.8 L293.4,315.9 L293.3,315.9 L293.2,316.0 L293.0,316.0 L292.9,316.0 L292.8,316.1 L292.6,316.1 L292.5,316.1 L292.3,316.1 L292.2,316.2 L292.1,316.2 L291.9,316.2 L291.8,316.2 L291.6,316.2 L291.5,316.2 L291.3,316.2 L291.2,316.2 L291.0,316.1 L290.9,316.1 L290.7,316.1 L290.6,316.0 L290.5,316.0 L290.3,316.0 L290.2,315.9 L290.0,315.8 L289.9,315.8 L289.8,315.7 L289.6,315.6 L289.5,315.6 L289.4,315.5 L289.2,315.4 L289.1,315.3 L289.0,315.2 L288.9,315.1 L288.8,315.0 L288.7,314.9 L288.6,314.8 L288.5,314.7 L288.4,314.5 L288.3,314.4 L288.2,314.3 L288.1,314.2 L288.1,314.0 L288.0,313.9 L287.9,313.7 L287.8,313.6 L287.8,313.5 L287.7,313.3 L287.7,313.2 L287.6,313.0 L287.6,312.9 L287.6,312.7 L287.5,312.5 L287.5,312.4 L287.5,312.2 L287.5,312.0 L287.4,311.9 L287.4,311.7 L287.4,311.5 L287.4,311.4 L287.4,311.2 L287.4,311.0 L287.4,310.8 L287.5,310.7 L287.5,310.5 L287.5,310.3 L287.5,310.1 L287.5,310.0 L287.5,309.8 L287.3,309.7 L287.2,309.6 L287.1,309.4 L286.9,309.3 L286.8,309.2 L286.7,309.0 L286.5,308.9 L286.4,308.7 L286.3,308.6 L286.1,308.4 L286.0,308.3 L285.9,308.1 L285.8,307.9 L285.7,307.8 L285.6,307.6 L285.5,307.4 L285.4,307.2 L285.3,307.1 L285.2,306.9 L285.2,306.7 L285.1,306.5 L285.0,306.3 L285.0,306.1 L284.9,305.9 L284.9,305.7 L284.9,305.4 L284.9,305.2 L284.9,305.0 L284.9,304.8 L284.9,304.6 L284.9,304.3 L284.9,304.1 L285.0,303.9 L285.0,303.7 L285.1,303.4 L285.1,303.2 L285.2,303.0 L285.3,302.8 L285.4,302.5 L285.5,302.3 L285.6,302.1 L285.7,301.9 L285.8,301.6 L285.9,301.4 L286.0,301.2 L286.1,301.0 L286.2,300.8 L286.1,300.6 L286.0,300.4 L285.9,300.2 L285.8,300.0 L285.7,299.7 L285.6,299.5 L285.5,299.3 L285.4,299.1 L285.3,298.8 L285.2,298.6 L285.1,298.4 L285.1,298.2 L285.0,297.9 L285.0,297.7 L284.9,297.5 L284.9,297.3 L284.9,297.0 L284.9,296.8 L284.9,296.6 L284.9,296.4 L284.9,296.2 L284.9,295.9 L284.9,295.7 L285.0,295.5 L285.0,295.3 L285.1,295.1 L285.2,294.9 L285.2,294.7 L285.3,294.5 L285.4,294.4 L285.5,294.2 L285.6,294.0 L285.7,293.8 L285.8,293.7 L285.9,293.5 L286.0,293.3 L286.1,293.2 L286.3,293.0 L286.4,292.9 L286.5,292.7 L286.7,292.6 L286.8,292.4 L286.9,292.3 L287.1,292.2 L287.2,292.0 L287.3,291.9 L287.5,291.8 L287.5,291.6 L287.5,291.5 L287.5,291.3 L287.5,291.1 L287.5,290.9 L287.4,290.8 L287.4,290.6 L287.4,290.4 L287.4,290.2 L287.4,290.1 L287.4,289.9 L287.4,289.7 L287.5,289.6 L287.5,289.4 L287.5,289.2 L287.5,289.1 L287.6,288.9 L287.6,288.7 L287.6,288.6 L287.7,288.4 L287.7,288.3 L287.8,288.1 L287.8,288.0 L287.9,287.9 L288.0,287.7 L288.1,287.6 L288.1,287.4 L288.2,287.3 L288.3,287.2 L288.4,287.1 L288.5,286.9 L288.6,286.8 L288.7,286.7 L288.8,286.6 L288.9,286.5 L289.0,286.4 L289.1,286.3 L289.2,286.2 L289.4,286.1 L289.5,286.0 L289.6,286.0 L289.8,285.9 L289.9,285.8 L290.0,285.8 L290.2,285.7 L290.3,285.6 L290.5,285.6 L290.6,285.6 L290.7,285.5 L290.9,285.5 L291.0,285.5 L291.2,285.4 L291.3,285.4 L291.5,285.4 L291.6,285.4 L291.8,285.4 L291.9,285.4 L292.1,285.4 L292.2,285.4 L292.3,285.5 L292.5,285.5 L292.6,285.5 L292.8,285.5 L292.9,285.6 L293.0,285.6 L293.2,285.6 L293.3,285.7 L293.4,285.7 L293.5,285.8 L293.7,285.8 L293.8,285.9 L293.9,285.9 L294.0,286.0 L294.1,285.9 L294.2,285.9 L294.3,285.8 L294.5,285.8 L294.6,285.7 L294.7,285.7 L294.8,285.6 L295.0,285.6 L295.1,285.6 L295.2,285.5 L295.4,285.5 L295.5,285.5 L295.7,285.5 L295.8,285.4 L295.9,285.4 L296.1,285.4 L296.2,285.4 L296.4,285.4 L296.5,285.4 L296.7,285.4 L296.8,285.4 L297.0,285.5 L297.1,285.5 L297.3,285.5 L297.4,285.6 L297.5,285.6 L297.7,285.6 L297.8,285.7 L298.0,285.8 L298.1,285.8 L298.2,285.9 L298.4,286.0 L298.5,286.0 L298.6,286.1 L298.8,286.2 L298.9,286.3 L299.0,286.4 L299.1,286.5 L299.2,286.6 L299.3,286.7 L299.4,286.8 L299.5,286.9 L299.6,287.1 L299.7,287.2 L299.8,287.3 L299.9,287.4 L299.9,287.6 L300.0,287.7 L300.1,287.9 L300.2,288.0 L300.2,288.1 L300.3,288.3 L300.3,288.4 L300.4,288.6 L300.4,288.7 L300.4,288.9 L300.5,289.1 L300.5,289.2 L300.5,289.4 L300.5,289.6 L300.6,289.7 L300.6,289.9 L300.6,290.1 L300.6,290.2 L300.6,290.4 L300.6,290.6 L300.6,290.8 L300.5,290.9 L300.5,291.1 L300.5,291.3 L300.5,291.5 L300.5,291.6 L300.5,291.8 L300.7,291.9 L300.8,292.0 L300.9,292.2 L301.1,292.3 L301.2,292.4 L301.3,292.6 L301.5,292.7 L301.6,292.9 L301.7,293.0 L301.9,293.2 L302.0,293.3 L302.1,293.5 L302.2,293.7 L302.3,293.8 L302.4,294.0 L302.5,294.2 L302.6,294.4 L302.7,294.5 L302.8,294.7 L302.8,294.9 L302.9,295.1 L303.0,295.3 L303.0,295.5 L303.1,295.7 L303.1,295.9 L303.1,296.2 L303.1,296.4 L303.1,296.6 L303.1,296.8 L303.1,297.0 L303.1,297.3 L303.1,297.5 L303.0,297.7 L303.0,297.9 L302.9,298.2 L302.9,298.4 L302.8,298.6 L302.7,298.8 L302.6,299.1 L302.5,299.3 L302.4,299.5 L302.3,299.7 L302.2,300.0 L302.1,300.2 L302.0,300.4 L301.9,300.6 Z" fill="#fcd676" stroke="#f4b08c" stroke-width="2.2" stroke-linejoin="round"/>
<path d="M330.1,300.2 L330.3,300.7 L330.5,301.1 L330.7,301.6 L330.9,302.1 L331.1,302.5 L331.3,303.0 L331.4,303.5 L331.5,304.0 L331.6,304.5 L331.6,305.0 L331.6,305.5 L331.6,305.9 L331.5,306.4 L331.4,306.9 L331.2,307.4 L331.1,307.9 L330.9,308.3 L330.7,308.8 L330.4,309.2 L330.2,309.7 L330.0,310.1 L329.7,310.5 L329.9,311.0 L330.1,311.4 L330.2,311.9 L330.4,312.3 L330.5,312.7 L330.6,313.1 L330.7,313.5 L330.7,313.9 L330.8,314.2 L330.8,314.6 L330.8,314.9 L330.8,315.3 L330.7,315.6 L330.7,315.9 L330.6,316.2 L330.5,316.5 L330.4,316.8 L330.3,317.1 L330.2,317.3 L330.1,317.6 L330.0,317.8 L329.8,318.1 L329.7,318.3 L329.5,318.5 L329.4,318.7 L329.2,319.0 L329.1,319.2 L328.9,319.3 L328.7,319.5 L328.5,319.7 L328.4,319.9 L328.2,320.1 L328.0,320.2 L327.8,320.4 L327.6,320.5 L327.6,320.8 L327.6,321.0 L327.6,321.2 L327.6,321.5 L327.6,321.7 L327.6,322.0 L327.6,322.2 L327.6,322.4 L327.5,322.7 L327.5,322.9 L327.5,323.1 L327.4,323.3 L327.4,323.5 L327.3,323.7 L327.2,323.9 L327.2,324.2 L327.1,324.4 L327.0,324.6 L326.9,324.7 L326.8,324.9 L326.7,325.1 L326.5,325.3 L326.4,325.5 L326.3,325.6 L326.1,325.8 L326.0,326.0 L325.8,326.1 L325.6,326.2 L325.4,326.4 L325.2,326.5 L325.0,326.6 L324.8,326.7 L324.6,326.8 L324.4,326.9 L324.2,327.0 L323.9,327.0 L323.7,327.1 L323.4,327.1 L323.2,327.2 L323.0,327.2 L322.7,327.2 L322.5,327.2 L322.2,327.2 L321.9,327.2 L321.7,327.1 L321.4,327.1 L321.2,327.1 L320.9,327.0 L320.7,326.9 L320.4,326.9 L320.2,326.8 L320.0,326.9 L319.7,327.0 L319.5,327.1 L319.3,327.3 L319.1,327.4 L318.9,327.5 L318.6,327.7 L318.4,327.8 L318.2,327.9 L318.0,328.0 L317.7,328.1 L317.5,328.1 L317.3,328.2 L317.0,328.3 L316.8,328.3 L316.5,328.4 L316.3,328.4 L316.1,328.4 L315.8,328.4 L315.6,328.4 L315.3,328.4 L315.1,328.4 L314.8,328.4 L314.6,328.3 L314.3,328.3 L314.1,328.2 L313.8,328.1 L313.6,328.1 L313.3,328.0 L313.1,327.9 L312.9,327.7 L312.7,327.6 L312.5,327.5 L312.2,327.3 L312.0,327.2 L311.8,327.0 L311.7,326.9 L311.5,326.7 L311.3,326.5 L311.2,326.4 L311.0,326.2 L310.9,326.0 L310.7,325.8 L310.6,325.6 L310.5,325.5 L310.4,325.3 L310.3,325.1 L310.2,324.9 L310.1,324.8 L309.9,324.8 L309.7,324.7 L309.5,324.6 L309.3,324.5 L309.1,324.4 L308.9,324.3 L308.7,324.2 L308.6,324.1 L308.4,324.0 L308.2,323.9 L308.0,323.8 L307.8,323.6 L307.7,323.5 L307.5,323.4 L307.3,323.2 L307.2,323.0 L307.0,322.9 L306.9,322.7 L306.8,322.5 L306.6,322.4 L306.5,322.2 L306.4,322.0 L306.2,321.8 L306.1,321.6 L306.0,321.4 L305.9,321.2 L305.8,321.0 L305.8,320.7 L305.7,320.5 L305.6,320.3 L305.6,320.1 L305.5,319.8 L305.5,319.6 L305.5,319.3 L305.4,319.1 L305.4,318.8 L305.4,318.5 L305.4,318.3 L305.4,318.0 L305.5,317.7 L305.5,317.4 L305.6,317.1 L305.6,316.9 L305.7,316.6 L305.7,316.2 L305.8,315.9 L305.9,315.6 L305.7,315.3 L305.5,315.1 L305.3,314.8 L305.1,314.5 L304.9,314.1 L304.7,313.8 L304.5,313.5 L304.3,313.1 L304.2,312.7 L304.0,312.3 L303.9,311.9 L303.8,311.5 L303.7,311.1 L303.7,310.7 L303.7,310.2 L303.7,309.8 L303.7,309.3 L303.8,308.8 L303.9,308.3 L304.0,307.9 L304.2,307.4 L304.4,306.9 L304.5,306.4 L304.8,305.9 L305.0,305.4 L304.8,304.9 L304.5,304.5 L304.3,304.0 L304.1,303.5 L303.9,303.0 L303.7,302.5 L303.6,302.1 L303.4,301.6 L303.4,301.1 L303.3,300.7 L303.3,300.2 L303.3,299.7 L303.4,299.3 L303.4,298.8 L303.6,298.3 L303.7,297.9 L303.9,297.4 L304.1,296.9 L304.3,296.4 L304.5,295.9 L304.8,295.5 L305.0,295.0 L304.8,294.5 L304.5,294.0 L304.4,293.5 L304.2,293.0 L304.0,292.5 L303.9,292.1 L303.8,291.6 L303.7,291.1 L303.7,290.6 L303.7,290.2 L303.7,289.7 L303.7,289.3 L303.8,288.9 L303.9,288.5 L304.0,288.1 L304.2,287.7 L304.3,287.3 L304.5,286.9 L304.7,286.6 L304.9,286.3 L305.1,285.9 L305.3,285.6 L305.5,285.3 L305.7,285.1 L305.9,284.8 L305.8,284.5 L305.7,284.2 L305.7,283.8 L305.6,283.5 L305.6,283.3 L305.5,283.0 L305.5,282.7 L305.4,282.4 L305.4,282.1 L305.4,281.9 L305.4,281.6 L305.4,281.3 L305.5,281.1 L305.5,280.8 L305.5,280.6 L305.6,280.3 L305.6,280.1 L305.7,279.9 L305.8,279.7 L305.8,279.4 L305.9,279.2 L306.0,279.0 L306.1,278.8 L306.2,278.6 L306.4,278.4 L306.5,278.2 L306.6,278.0 L306.8,277.9 L306.9,277.7 L307.0,277.5 L307.2,277.4 L307.3,277.2 L307.5,277.0 L307.7,276.9 L307.8,276.8 L308.0,276.6 L308.2,276.5 L308.4,276.4 L308.6,276.3 L308.7,276.2 L308.9,276.1 L309.1,276.0 L309.3,275.9 L309.5,275.8 L309.7,275.7 L309.9,275.6 L310.1,275.6 L310.2,275.5 L310.3,275.3 L310.4,275.1 L310.5,274.9 L310.6,274.8 L310.7,274.6 L310.9,274.4 L311.0,274.2 L311.2,274.0 L311.3,273.9 L311.5,273.7 L311.7,273.5 L311.8,273.4 L312.0,273.2 L312.2,273.1 L312.5,272.9 L312.7,272.8 L312.9,272.7 L313.1,272.5 L313.3,272.4 L313.6,272.3 L313.8,272.3 L314.1,272.2 L314.3,272.1 L314.6,272.1 L314.8,272.0 L315.1,272.0 L315.3,272.0 L315.6,272.0 L315.8,272.0 L316.1,272.0 L316.3,272.0 L316.5,272.0 L316.8,272.1 L317.0,272.1 L317.3,272.2 L317.5,272.3 L317.7,272.3 L318.0,272.4 L318.2,272.5 L318.4,272.6 L318.6,272.7 L318.9,272.9 L319.1,273.0 L319.3,273.1 L319.5,273.3 L319.7,273.4 L320.0,273.5 L320.2,273.6 L320.4,273.5 L320.7,273.5 L320.9,273.4 L321.2,273.3 L321.4,273.3 L321.7,273.3 L321.9,273.2 L322.2,273.2 L322.5,273.2 L322.7,273.2 L323.0,273.2 L323.2,273.2 L323.4,273.3 L323.7,273.3 L323.9,273.4 L324.2,273.4 L324.4,273.5 L324.6,273.6 L324.8,273.7 L325.0,273.8 L325.2,273.9 L325.4,274.0 L325.6,274.2 L325.8,274.3 L326.0,274.4 L326.1,274.6 L326.3,274.8 L326.4,274.9 L326.5,275.1 L326.7,275.3 L326.8,275.5 L326.9,275.7 L327.0,275.8 L327.1,276.0 L327.2,276.2 L327.2,276.5 L327.3,276.7 L327.4,276.9 L327.4,277.1 L327.5,277.3 L327.5,277.5 L327.5,277.7 L327.6,278.0 L327.6,278.2 L327.6,278.4 L327.6,278.7 L327.6,278.9 L327.6,279.2 L327.6,279.4 L327.6,279.6 L327.6,279.9 L327.8,280.0 L328.0,280.2 L328.2,280.3 L328.4,280.5 L328.5,280.7 L328.7,280.9 L328.9,281.1 L329.1,281.2 L329.2,281.4 L329.4,281.7 L329.5,281.9 L329.7,282.1 L329.8,282.3 L330.0,282.6 L330.1,282.8 L330.2,283.1 L330.3,283.3 L330.4,283.6 L330.5,283.9 L330.6,284.2 L330.7,284.5 L330.7,284.8 L330.8,285.1 L330.8,285.5 L330.8,285.8 L330.8,286.2 L330.7,286.5 L330.7,286.9 L330.6,287.3 L330.5,287.7 L330.4,288.1 L330.2,288.5 L330.1,289.0 L329.9,289.4 L329.7,289.9 L330.0,290.3 L330.2,290.7 L330.4,291.2 L330.7,291.6 L330.9,292.1 L331.1,292.5 L331.2,293.0 L331.4,293.5 L331.5,294.0 L331.6,294.5 L331.6,294.9 L331.6,295.4 L331.6,295.9 L331.5,296.4 L331.4,296.9 L331.3,297.4 L331.1,297.9 L330.9,298.3 L330.7,298.8 L330.5,299.3 L330.3,299.7 Z" fill="#fcd676" stroke="#f4b08c" stroke-width="2.2" stroke-linejoin="round"/>
<path d="M350.0,300.8 L350.1,301.0 L350.2,301.2 L350.3,301.4 L350.4,301.6 L350.5,301.9 L350.6,302.1 L350.7,302.3 L350.8,302.5 L350.9,302.8 L351.0,303.0 L351.0,303.2 L351.1,303.4 L351.2,303.7 L351.2,303.9 L351.3,304.1 L351.3,304.3 L351.3,304.6 L351.3,304.8 L351.3,305.0 L351.3,305.2 L351.3,305.4 L351.3,305.7 L351.2,305.9 L351.2,306.1 L351.2,306.3 L351.1,306.5 L351.0,306.7 L351.0,306.9 L350.9,307.1 L350.8,307.3 L350.7,307.4 L350.6,307.6 L350.5,307.8 L350.4,308.0 L350.3,308.1 L350.2,308.3 L350.1,308.5 L349.9,308.6 L349.8,308.8 L349.7,308.9 L349.5,309.0 L349.4,309.2 L349.3,309.3 L349.1,309.5 L349.0,309.6 L348.9,309.7 L348.7,309.8 L348.6,310.0 L348.6,310.1 L348.6,310.3 L348.6,310.5 L348.6,310.7 L348.6,310.8 L348.6,311.0 L348.6,311.2 L348.6,311.4 L348.6,311.5 L348.6,311.7 L348.6,311.9 L348.6,312.0 L348.5,312.2 L348.5,312.4 L348.5,312.5 L348.5,312.7 L348.4,312.9 L348.4,313.0 L348.3,313.2 L348.3,313.3 L348.2,313.5 L348.2,313.6 L348.1,313.8 L348.0,313.9 L347.9,314.0 L347.9,314.2 L347.8,314.3 L347.7,314.4 L347.6,314.6 L347.5,314.7 L347.4,314.8 L347.3,314.9 L347.2,315.0 L347.1,315.1 L347.0,315.2 L346.8,315.3 L346.7,315.4 L346.6,315.5 L346.5,315.6 L346.3,315.7 L346.2,315.8 L346.1,315.8 L345.9,315.9 L345.8,315.9 L345.6,316.0 L345.5,316.0 L345.3,316.1 L345.2,316.1 L345.0,316.2 L344.9,316.2 L344.7,316.2 L344.6,316.2 L344.4,316.2 L344.3,316.2 L344.1,316.2 L344.0,316.2 L343.8,316.2 L343.7,316.2 L343.5,316.2 L343.4,316.1 L343.2,316.1 L343.1,316.1 L343.0,316.1 L342.8,316.0 L342.7,316.0 L342.5,315.9 L342.4,315.9 L342.3,315.8 L342.2,315.8 L342.0,315.7 L341.9,315.7 L341.8,315.6 L341.7,315.7 L341.6,315.7 L341.4,315.8 L341.3,315.8 L341.2,315.9 L341.1,315.9 L340.9,316.0 L340.8,316.0 L340.6,316.1 L340.5,316.1 L340.4,316.1 L340.2,316.1 L340.1,316.2 L339.9,316.2 L339.8,316.2 L339.6,316.2 L339.5,316.2 L339.3,316.2 L339.2,316.2 L339.0,316.2 L338.9,316.2 L338.7,316.2 L338.6,316.2 L338.4,316.1 L338.3,316.1 L338.1,316.0 L338.0,316.0 L337.8,315.9 L337.7,315.9 L337.5,315.8 L337.4,315.8 L337.3,315.7 L337.1,315.6 L337.0,315.5 L336.9,315.4 L336.8,315.3 L336.6,315.2 L336.5,315.1 L336.4,315.0 L336.3,314.9 L336.2,314.8 L336.1,314.7 L336.0,314.6 L335.9,314.4 L335.8,314.3 L335.7,314.2 L335.7,314.0 L335.6,313.9 L335.5,313.8 L335.4,313.6 L335.4,313.5 L335.3,313.3 L335.3,313.2 L335.2,313.0 L335.2,312.9 L335.1,312.7 L335.1,312.5 L335.1,312.4 L335.1,312.2 L335.0,312.0 L335.0,311.9 L335.0,311.7 L335.0,311.5 L335.0,311.4 L335.0,311.2 L335.0,311.0 L335.0,310.8 L335.0,310.7 L335.0,310.5 L335.0,310.3 L335.0,310.1 L335.0,310.0 L334.9,309.8 L334.7,309.7 L334.6,309.6 L334.5,309.5 L334.3,309.3 L334.2,309.2 L334.1,309.0 L333.9,308.9 L333.8,308.8 L333.7,308.6 L333.5,308.5 L333.4,308.3 L333.3,308.1 L333.2,308.0 L333.1,307.8 L333.0,307.6 L332.9,307.4 L332.8,307.3 L332.7,307.1 L332.6,306.9 L332.6,306.7 L332.5,306.5 L332.4,306.3 L332.4,306.1 L332.4,305.9 L332.3,305.7 L332.3,305.4 L332.3,305.2 L332.3,305.0 L332.3,304.8 L332.3,304.6 L332.3,304.3 L332.3,304.1 L332.4,303.9 L332.4,303.7 L332.5,303.4 L332.6,303.2 L332.6,303.0 L332.7,302.8 L332.8,302.5 L332.9,302.3 L333.0,302.1 L333.1,301.9 L333.2,301.6 L333.3,301.4 L333.4,301.2 L333.5,301.0 L333.6,300.8 L333.5,300.6 L333.4,300.4 L333.3,300.2 L333.2,300.0 L333.1,299.7 L333.0,299.5 L332.9,299.3 L332.8,299.1 L332.7,298.8 L332.6,298.6 L332.6,298.4 L332.5,298.2 L332.4,297.9 L332.4,297.7 L332.3,297.5 L332.3,297.3 L332.3,297.0 L332.3,296.8 L332.3,296.6 L332.3,296.4 L332.3,296.2 L332.3,295.9 L332.4,295.7 L332.4,295.5 L332.4,295.3 L332.5,295.1 L332.6,294.9 L332.6,294.7 L332.7,294.5 L332.8,294.3 L332.9,294.2 L333.0,294.0 L333.1,293.8 L333.2,293.6 L333.3,293.5 L333.4,293.3 L333.5,293.1 L333.7,293.0 L333.8,292.8 L333.9,292.7 L334.1,292.6 L334.2,292.4 L334.3,292.3 L334.5,292.1 L334.6,292.0 L334.7,291.9 L334.9,291.8 L335.0,291.6 L335.0,291.5 L335.0,291.3 L335.0,291.1 L335.0,290.9 L335.0,290.8 L335.0,290.6 L335.0,290.4 L335.0,290.2 L335.0,290.1 L335.0,289.9 L335.0,289.7 L335.0,289.6 L335.1,289.4 L335.1,289.2 L335.1,289.1 L335.1,288.9 L335.2,288.7 L335.2,288.6 L335.3,288.4 L335.3,288.3 L335.4,288.1 L335.4,288.0 L335.5,287.8 L335.6,287.7 L335.7,287.6 L335.7,287.4 L335.8,287.3 L335.9,287.2 L336.0,287.0 L336.1,286.9 L336.2,286.8 L336.3,286.7 L336.4,286.6 L336.5,286.5 L336.6,286.4 L336.8,286.3 L336.9,286.2 L337.0,286.1 L337.1,286.0 L337.3,285.9 L337.4,285.8 L337.5,285.8 L337.7,285.7 L337.8,285.7 L338.0,285.6 L338.1,285.6 L338.3,285.5 L338.4,285.5 L338.6,285.4 L338.7,285.4 L338.9,285.4 L339.0,285.4 L339.2,285.4 L339.3,285.4 L339.5,285.4 L339.6,285.4 L339.8,285.4 L339.9,285.4 L340.1,285.4 L340.2,285.5 L340.4,285.5 L340.5,285.5 L340.6,285.5 L340.8,285.6 L340.9,285.6 L341.1,285.7 L341.2,285.7 L341.3,285.8 L341.4,285.8 L341.6,285.9 L341.7,285.9 L341.8,286.0 L341.9,285.9 L342.0,285.9 L342.2,285.8 L342.3,285.8 L342.4,285.7 L342.5,285.7 L342.7,285.6 L342.8,285.6 L343.0,285.5 L343.1,285.5 L343.2,285.5 L343.4,285.5 L343.5,285.4 L343.7,285.4 L343.8,285.4 L344.0,285.4 L344.1,285.4 L344.3,285.4 L344.4,285.4 L344.6,285.4 L344.7,285.4 L344.9,285.4 L345.0,285.4 L345.2,285.5 L345.3,285.5 L345.5,285.6 L345.6,285.6 L345.8,285.7 L345.9,285.7 L346.1,285.8 L346.2,285.8 L346.3,285.9 L346.5,286.0 L346.6,286.1 L346.7,286.2 L346.8,286.3 L347.0,286.4 L347.1,286.5 L347.2,286.6 L347.3,286.7 L347.4,286.8 L347.5,286.9 L347.6,287.0 L347.7,287.2 L347.8,287.3 L347.9,287.4 L347.9,287.6 L348.0,287.7 L348.1,287.8 L348.2,288.0 L348.2,288.1 L348.3,288.3 L348.3,288.4 L348.4,288.6 L348.4,288.7 L348.5,288.9 L348.5,289.1 L348.5,289.2 L348.5,289.4 L348.6,289.6 L348.6,289.7 L348.6,289.9 L348.6,290.1 L348.6,290.2 L348.6,290.4 L348.6,290.6 L348.6,290.8 L348.6,290.9 L348.6,291.1 L348.6,291.3 L348.6,291.5 L348.6,291.6 L348.7,291.8 L348.9,291.9 L349.0,292.0 L349.1,292.1 L349.3,292.3 L349.4,292.4 L349.5,292.6 L349.7,292.7 L349.8,292.8 L349.9,293.0 L350.1,293.1 L350.2,293.3 L350.3,293.5 L350.4,293.6 L350.5,293.8 L350.6,294.0 L350.7,294.2 L350.8,294.3 L350.9,294.5 L351.0,294.7 L351.0,294.9 L351.1,295.1 L351.2,295.3 L351.2,295.5 L351.2,295.7 L351.3,295.9 L351.3,296.2 L351.3,296.4 L351.3,296.6 L351.3,296.8 L351.3,297.0 L351.3,297.3 L351.3,297.5 L351.2,297.7 L351.2,297.9 L351.1,298.2 L351.0,298.4 L351.0,298.6 L350.9,298.8 L350.8,299.1 L350.7,299.3 L350.6,299.5 L350.5,299.7 L350.4,300.0 L350.3,300.2 L350.2,300.4 L350.1,300.6 Z" fill="#fcd676" stroke="#f4b08c" stroke-width="2.2" stroke-linejoin="round"/>
<use href="#o_eye" transform="translate(603,0)"/>
<use href="#o_lungs" transform="translate(602,0)"/>
<use href="#o_heart" transform="translate(603,-1.5)"/>
<use href="#o_stomach" transform="translate(602,0)"/>
<use href="#o_liver" transform="translate(603,0)"/>
<use href="#o_int" transform="translate(602,0)"/>
<use href="#o_bladder" transform="translate(660.4,22.5)"/>
<use href="#o_uterus" transform="translate(600,0)"/>
<use href="#o_male" transform="translate(600.5,0)"/>
<path d="M926.3,301.4 L926.4,301.6 L926.5,301.8 L926.6,302.0 L926.7,302.2 L926.8,302.5 L926.9,302.7 L927.0,302.9 L927.1,303.1 L927.2,303.4 L927.3,303.6 L927.4,303.8 L927.4,304.0 L927.5,304.3 L927.5,304.5 L927.6,304.7 L927.6,304.9 L927.6,305.2 L927.6,305.4 L927.6,305.6 L927.6,305.8 L927.6,306.0 L927.6,306.3 L927.6,306.5 L927.5,306.7 L927.5,306.9 L927.4,307.1 L927.3,307.3 L927.3,307.5 L927.2,307.7 L927.1,307.8 L927.0,308.0 L926.9,308.2 L926.8,308.4 L926.7,308.5 L926.6,308.7 L926.5,308.9 L926.4,309.0 L926.2,309.2 L926.1,309.3 L926.0,309.5 L925.8,309.6 L925.7,309.8 L925.6,309.9 L925.4,310.0 L925.3,310.2 L925.2,310.3 L925.0,310.4 L925.0,310.6 L925.0,310.7 L925.0,310.9 L925.0,311.1 L925.0,311.3 L925.1,311.4 L925.1,311.6 L925.1,311.8 L925.1,312.0 L925.1,312.1 L925.1,312.3 L925.1,312.5 L925.0,312.6 L925.0,312.8 L925.0,313.0 L925.0,313.1 L924.9,313.3 L924.9,313.5 L924.9,313.6 L924.8,313.8 L924.8,313.9 L924.7,314.1 L924.7,314.2 L924.6,314.3 L924.5,314.5 L924.4,314.6 L924.4,314.8 L924.3,314.9 L924.2,315.0 L924.1,315.1 L924.0,315.3 L923.9,315.4 L923.8,315.5 L923.7,315.6 L923.6,315.7 L923.5,315.8 L923.4,315.9 L923.3,316.0 L923.1,316.1 L923.0,316.2 L922.9,316.2 L922.7,316.3 L922.6,316.4 L922.5,316.4 L922.3,316.5 L922.2,316.6 L922.0,316.6 L921.9,316.6 L921.8,316.7 L921.6,316.7 L921.5,316.7 L921.3,316.8 L921.2,316.8 L921.0,316.8 L920.9,316.8 L920.7,316.8 L920.6,316.8 L920.4,316.8 L920.3,316.8 L920.2,316.7 L920.0,316.7 L919.9,316.7 L919.7,316.7 L919.6,316.6 L919.5,316.6 L919.3,316.6 L919.2,316.5 L919.1,316.5 L919.0,316.4 L918.8,316.4 L918.7,316.3 L918.6,316.3 L918.5,316.2 L918.4,316.3 L918.3,316.3 L918.2,316.4 L918.0,316.4 L917.9,316.5 L917.8,316.5 L917.7,316.6 L917.5,316.6 L917.4,316.6 L917.3,316.7 L917.1,316.7 L917.0,316.7 L916.8,316.7 L916.7,316.8 L916.6,316.8 L916.4,316.8 L916.3,316.8 L916.1,316.8 L916.0,316.8 L915.8,316.8 L915.7,316.8 L915.5,316.7 L915.4,316.7 L915.2,316.7 L915.1,316.6 L915.0,316.6 L914.8,316.6 L914.7,316.5 L914.5,316.4 L914.4,316.4 L914.3,316.3 L914.1,316.2 L914.0,316.2 L913.9,316.1 L913.7,316.0 L913.6,315.9 L913.5,315.8 L913.4,315.7 L913.3,315.6 L913.2,315.5 L913.1,315.4 L913.0,315.3 L912.9,315.1 L912.8,315.0 L912.7,314.9 L912.6,314.8 L912.6,314.6 L912.5,314.5 L912.4,314.3 L912.3,314.2 L912.3,314.1 L912.2,313.9 L912.2,313.8 L912.1,313.6 L912.1,313.5 L912.1,313.3 L912.0,313.1 L912.0,313.0 L912.0,312.8 L912.0,312.6 L911.9,312.5 L911.9,312.3 L911.9,312.1 L911.9,312.0 L911.9,311.8 L911.9,311.6 L911.9,311.4 L912.0,311.3 L912.0,311.1 L912.0,310.9 L912.0,310.7 L912.0,310.6 L912.0,310.4 L911.8,310.3 L911.7,310.2 L911.6,310.0 L911.4,309.9 L911.3,309.8 L911.2,309.6 L911.0,309.5 L910.9,309.3 L910.8,309.2 L910.6,309.0 L910.5,308.9 L910.4,308.7 L910.3,308.5 L910.2,308.4 L910.1,308.2 L910.0,308.0 L909.9,307.8 L909.8,307.7 L909.7,307.5 L909.7,307.3 L909.6,307.1 L909.5,306.9 L909.5,306.7 L909.4,306.5 L909.4,306.3 L909.4,306.0 L909.4,305.8 L909.4,305.6 L909.4,305.4 L909.4,305.2 L909.4,304.9 L909.4,304.7 L909.5,304.5 L909.5,304.3 L909.6,304.0 L909.6,303.8 L909.7,303.6 L909.8,303.4 L909.9,303.1 L910.0,302.9 L910.1,302.7 L910.2,302.5 L910.3,302.2 L910.4,302.0 L910.5,301.8 L910.6,301.6 L910.7,301.4 L910.6,301.2 L910.5,301.0 L910.4,300.8 L910.3,300.6 L910.2,300.3 L910.1,300.1 L910.0,299.9 L909.9,299.7 L909.8,299.4 L909.7,299.2 L909.6,299.0 L909.6,298.8 L909.5,298.5 L909.5,298.3 L909.4,298.1 L909.4,297.9 L909.4,297.6 L909.4,297.4 L909.4,297.2 L909.4,297.0 L909.4,296.8 L909.4,296.5 L909.4,296.3 L909.5,296.1 L909.5,295.9 L909.6,295.7 L909.7,295.5 L909.7,295.3 L909.8,295.1 L909.9,295.0 L910.0,294.8 L910.1,294.6 L910.2,294.4 L910.3,294.3 L910.4,294.1 L910.5,293.9 L910.6,293.8 L910.8,293.6 L910.9,293.5 L911.0,293.3 L911.2,293.2 L911.3,293.0 L911.4,292.9 L911.6,292.8 L911.7,292.6 L911.8,292.5 L912.0,292.4 L912.0,292.2 L912.0,292.1 L912.0,291.9 L912.0,291.7 L912.0,291.5 L911.9,291.4 L911.9,291.2 L911.9,291.0 L911.9,290.8 L911.9,290.7 L911.9,290.5 L911.9,290.3 L912.0,290.2 L912.0,290.0 L912.0,289.8 L912.0,289.7 L912.1,289.5 L912.1,289.3 L912.1,289.2 L912.2,289.0 L912.2,288.9 L912.3,288.7 L912.3,288.6 L912.4,288.5 L912.5,288.3 L912.6,288.2 L912.6,288.0 L912.7,287.9 L912.8,287.8 L912.9,287.7 L913.0,287.5 L913.1,287.4 L913.2,287.3 L913.3,287.2 L913.4,287.1 L913.5,287.0 L913.6,286.9 L913.7,286.8 L913.9,286.7 L914.0,286.6 L914.1,286.6 L914.3,286.5 L914.4,286.4 L914.5,286.4 L914.7,286.3 L914.8,286.2 L915.0,286.2 L915.1,286.2 L915.2,286.1 L915.4,286.1 L915.5,286.1 L915.7,286.0 L915.8,286.0 L916.0,286.0 L916.1,286.0 L916.3,286.0 L916.4,286.0 L916.6,286.0 L916.7,286.0 L916.8,286.1 L917.0,286.1 L917.1,286.1 L917.3,286.1 L917.4,286.2 L917.5,286.2 L917.7,286.2 L917.8,286.3 L917.9,286.3 L918.0,286.4 L918.2,286.4 L918.3,286.5 L918.4,286.5 L918.5,286.6 L918.6,286.5 L918.7,286.5 L918.8,286.4 L919.0,286.4 L919.1,286.3 L919.2,286.3 L919.3,286.2 L919.5,286.2 L919.6,286.2 L919.7,286.1 L919.9,286.1 L920.0,286.1 L920.2,286.1 L920.3,286.0 L920.4,286.0 L920.6,286.0 L920.7,286.0 L920.9,286.0 L921.0,286.0 L921.2,286.0 L921.3,286.0 L921.5,286.1 L921.6,286.1 L921.8,286.1 L921.9,286.2 L922.0,286.2 L922.2,286.2 L922.3,286.3 L922.5,286.4 L922.6,286.4 L922.7,286.5 L922.9,286.6 L923.0,286.6 L923.1,286.7 L923.3,286.8 L923.4,286.9 L923.5,287.0 L923.6,287.1 L923.7,287.2 L923.8,287.3 L923.9,287.4 L924.0,287.5 L924.1,287.7 L924.2,287.8 L924.3,287.9 L924.4,288.0 L924.4,288.2 L924.5,288.3 L924.6,288.5 L924.7,288.6 L924.7,288.7 L924.8,288.9 L924.8,289.0 L924.9,289.2 L924.9,289.3 L924.9,289.5 L925.0,289.7 L925.0,289.8 L925.0,290.0 L925.0,290.2 L925.1,290.3 L925.1,290.5 L925.1,290.7 L925.1,290.8 L925.1,291.0 L925.1,291.2 L925.1,291.4 L925.0,291.5 L925.0,291.7 L925.0,291.9 L925.0,292.1 L925.0,292.2 L925.0,292.4 L925.2,292.5 L925.3,292.6 L925.4,292.8 L925.6,292.9 L925.7,293.0 L925.8,293.2 L926.0,293.3 L926.1,293.5 L926.2,293.6 L926.4,293.8 L926.5,293.9 L926.6,294.1 L926.7,294.3 L926.8,294.4 L926.9,294.6 L927.0,294.8 L927.1,295.0 L927.2,295.1 L927.3,295.3 L927.3,295.5 L927.4,295.7 L927.5,295.9 L927.5,296.1 L927.6,296.3 L927.6,296.5 L927.6,296.8 L927.6,297.0 L927.6,297.2 L927.6,297.4 L927.6,297.6 L927.6,297.9 L927.6,298.1 L927.5,298.3 L927.5,298.5 L927.4,298.8 L927.4,299.0 L927.3,299.2 L927.2,299.4 L927.1,299.7 L927.0,299.9 L926.9,300.1 L926.8,300.3 L926.7,300.6 L926.6,300.8 L926.5,301.0 L926.4,301.2 Z" fill="#fcd676" stroke="#f4b08c" stroke-width="2.2" stroke-linejoin="round"/>
<path d="M954.6,300.8 L954.8,301.3 L955.0,301.7 L955.2,302.2 L955.4,302.7 L955.6,303.1 L955.8,303.6 L955.9,304.1 L956.0,304.6 L956.1,305.1 L956.1,305.6 L956.1,306.1 L956.1,306.5 L956.0,307.0 L955.9,307.5 L955.7,308.0 L955.6,308.5 L955.4,308.9 L955.2,309.4 L954.9,309.8 L954.7,310.3 L954.5,310.7 L954.2,311.1 L954.4,311.6 L954.6,312.0 L954.7,312.5 L954.9,312.9 L955.0,313.3 L955.1,313.7 L955.2,314.1 L955.2,314.5 L955.3,314.8 L955.3,315.2 L955.3,315.5 L955.3,315.9 L955.2,316.2 L955.2,316.5 L955.1,316.8 L955.0,317.1 L954.9,317.4 L954.8,317.7 L954.7,317.9 L954.6,318.2 L954.5,318.4 L954.3,318.7 L954.2,318.9 L954.0,319.1 L953.9,319.3 L953.7,319.6 L953.6,319.8 L953.4,319.9 L953.2,320.1 L953.0,320.3 L952.9,320.5 L952.7,320.7 L952.5,320.8 L952.3,321.0 L952.1,321.1 L952.1,321.4 L952.1,321.6 L952.1,321.8 L952.1,322.1 L952.1,322.3 L952.1,322.6 L952.1,322.8 L952.1,323.0 L952.0,323.3 L952.0,323.5 L952.0,323.7 L951.9,323.9 L951.9,324.1 L951.8,324.3 L951.7,324.5 L951.7,324.8 L951.6,325.0 L951.5,325.2 L951.4,325.3 L951.3,325.5 L951.2,325.7 L951.0,325.9 L950.9,326.1 L950.8,326.2 L950.6,326.4 L950.5,326.6 L950.3,326.7 L950.1,326.8 L949.9,327.0 L949.7,327.1 L949.5,327.2 L949.3,327.3 L949.1,327.4 L948.9,327.5 L948.7,327.6 L948.4,327.6 L948.2,327.7 L947.9,327.7 L947.7,327.8 L947.5,327.8 L947.2,327.8 L947.0,327.8 L946.7,327.8 L946.4,327.8 L946.2,327.7 L945.9,327.7 L945.7,327.7 L945.4,327.6 L945.2,327.5 L944.9,327.5 L944.7,327.4 L944.5,327.5 L944.2,327.6 L944.0,327.7 L943.8,327.9 L943.6,328.0 L943.4,328.1 L943.1,328.3 L942.9,328.4 L942.7,328.5 L942.5,328.6 L942.2,328.7 L942.0,328.7 L941.8,328.8 L941.5,328.9 L941.3,328.9 L941.0,329.0 L940.8,329.0 L940.6,329.0 L940.3,329.0 L940.1,329.0 L939.8,329.0 L939.6,329.0 L939.3,329.0 L939.1,328.9 L938.8,328.9 L938.6,328.8 L938.3,328.7 L938.1,328.7 L937.8,328.6 L937.6,328.5 L937.4,328.3 L937.2,328.2 L937.0,328.1 L936.7,327.9 L936.5,327.8 L936.3,327.6 L936.2,327.5 L936.0,327.3 L935.8,327.1 L935.7,327.0 L935.5,326.8 L935.4,326.6 L935.2,326.4 L935.1,326.2 L935.0,326.1 L934.9,325.9 L934.8,325.7 L934.7,325.5 L934.6,325.4 L934.4,325.4 L934.2,325.3 L934.0,325.2 L933.8,325.1 L933.6,325.0 L933.4,324.9 L933.2,324.8 L933.1,324.7 L932.9,324.6 L932.7,324.5 L932.5,324.4 L932.3,324.2 L932.2,324.1 L932.0,324.0 L931.8,323.8 L931.7,323.6 L931.5,323.5 L931.4,323.3 L931.3,323.1 L931.1,323.0 L931.0,322.8 L930.9,322.6 L930.7,322.4 L930.6,322.2 L930.5,322.0 L930.4,321.8 L930.3,321.6 L930.3,321.3 L930.2,321.1 L930.1,320.9 L930.1,320.7 L930.0,320.4 L930.0,320.2 L930.0,319.9 L929.9,319.7 L929.9,319.4 L929.9,319.1 L929.9,318.9 L929.9,318.6 L930.0,318.3 L930.0,318.0 L930.1,317.7 L930.1,317.5 L930.2,317.2 L930.2,316.8 L930.3,316.5 L930.4,316.2 L930.2,315.9 L930.0,315.7 L929.8,315.4 L929.6,315.1 L929.4,314.7 L929.2,314.4 L929.0,314.1 L928.8,313.7 L928.7,313.3 L928.5,312.9 L928.4,312.5 L928.3,312.1 L928.2,311.7 L928.2,311.3 L928.2,310.8 L928.2,310.4 L928.2,309.9 L928.3,309.4 L928.4,308.9 L928.5,308.5 L928.7,308.0 L928.9,307.5 L929.0,307.0 L929.3,306.5 L929.5,306.0 L929.3,305.5 L929.0,305.1 L928.8,304.6 L928.6,304.1 L928.4,303.6 L928.2,303.1 L928.1,302.7 L927.9,302.2 L927.9,301.7 L927.8,301.3 L927.8,300.8 L927.8,300.3 L927.9,299.9 L927.9,299.4 L928.1,298.9 L928.2,298.5 L928.4,298.0 L928.6,297.5 L928.8,297.0 L929.0,296.5 L929.3,296.1 L929.5,295.6 L929.3,295.1 L929.0,294.6 L928.9,294.1 L928.7,293.6 L928.5,293.1 L928.4,292.7 L928.3,292.2 L928.2,291.7 L928.2,291.2 L928.2,290.8 L928.2,290.3 L928.2,289.9 L928.3,289.5 L928.4,289.1 L928.5,288.7 L928.7,288.3 L928.8,287.9 L929.0,287.5 L929.2,287.2 L929.4,286.9 L929.6,286.5 L929.8,286.2 L930.0,285.9 L930.2,285.7 L930.4,285.4 L930.3,285.1 L930.2,284.8 L930.2,284.4 L930.1,284.1 L930.1,283.9 L930.0,283.6 L930.0,283.3 L929.9,283.0 L929.9,282.7 L929.9,282.5 L929.9,282.2 L929.9,281.9 L930.0,281.7 L930.0,281.4 L930.0,281.2 L930.1,280.9 L930.1,280.7 L930.2,280.5 L930.3,280.3 L930.3,280.0 L930.4,279.8 L930.5,279.6 L930.6,279.4 L930.7,279.2 L930.9,279.0 L931.0,278.8 L931.1,278.6 L931.3,278.5 L931.4,278.3 L931.5,278.1 L931.7,278.0 L931.8,277.8 L932.0,277.6 L932.2,277.5 L932.3,277.4 L932.5,277.2 L932.7,277.1 L932.9,277.0 L933.1,276.9 L933.2,276.8 L933.4,276.7 L933.6,276.6 L933.8,276.5 L934.0,276.4 L934.2,276.3 L934.4,276.2 L934.6,276.2 L934.7,276.1 L934.8,275.9 L934.9,275.7 L935.0,275.5 L935.1,275.4 L935.2,275.2 L935.4,275.0 L935.5,274.8 L935.7,274.6 L935.8,274.5 L936.0,274.3 L936.2,274.1 L936.3,274.0 L936.5,273.8 L936.7,273.7 L937.0,273.5 L937.2,273.4 L937.4,273.3 L937.6,273.1 L937.8,273.0 L938.1,272.9 L938.3,272.9 L938.6,272.8 L938.8,272.7 L939.1,272.7 L939.3,272.6 L939.6,272.6 L939.8,272.6 L940.1,272.6 L940.3,272.6 L940.6,272.6 L940.8,272.6 L941.0,272.6 L941.3,272.7 L941.5,272.7 L941.8,272.8 L942.0,272.9 L942.2,272.9 L942.5,273.0 L942.7,273.1 L942.9,273.2 L943.1,273.3 L943.4,273.5 L943.6,273.6 L943.8,273.7 L944.0,273.9 L944.2,274.0 L944.5,274.1 L944.7,274.2 L944.9,274.1 L945.2,274.1 L945.4,274.0 L945.7,273.9 L945.9,273.9 L946.2,273.9 L946.4,273.8 L946.7,273.8 L947.0,273.8 L947.2,273.8 L947.5,273.8 L947.7,273.8 L947.9,273.9 L948.2,273.9 L948.4,274.0 L948.7,274.0 L948.9,274.1 L949.1,274.2 L949.3,274.3 L949.5,274.4 L949.7,274.5 L949.9,274.6 L950.1,274.8 L950.3,274.9 L950.5,275.0 L950.6,275.2 L950.8,275.4 L950.9,275.5 L951.0,275.7 L951.2,275.9 L951.3,276.1 L951.4,276.3 L951.5,276.4 L951.6,276.6 L951.7,276.8 L951.7,277.1 L951.8,277.3 L951.9,277.5 L951.9,277.7 L952.0,277.9 L952.0,278.1 L952.0,278.3 L952.1,278.6 L952.1,278.8 L952.1,279.0 L952.1,279.3 L952.1,279.5 L952.1,279.8 L952.1,280.0 L952.1,280.2 L952.1,280.5 L952.3,280.6 L952.5,280.8 L952.7,280.9 L952.9,281.1 L953.0,281.3 L953.2,281.5 L953.4,281.7 L953.6,281.8 L953.7,282.0 L953.9,282.3 L954.0,282.5 L954.2,282.7 L954.3,282.9 L954.5,283.2 L954.6,283.4 L954.7,283.7 L954.8,283.9 L954.9,284.2 L955.0,284.5 L955.1,284.8 L955.2,285.1 L955.2,285.4 L955.3,285.7 L955.3,286.1 L955.3,286.4 L955.3,286.8 L955.2,287.1 L955.2,287.5 L955.1,287.9 L955.0,288.3 L954.9,288.7 L954.7,289.1 L954.6,289.6 L954.4,290.0 L954.2,290.5 L954.5,290.9 L954.7,291.3 L954.9,291.8 L955.2,292.2 L955.4,292.7 L955.6,293.1 L955.7,293.6 L955.9,294.1 L956.0,294.6 L956.1,295.1 L956.1,295.5 L956.1,296.0 L956.1,296.5 L956.0,297.0 L955.9,297.5 L955.8,298.0 L955.6,298.5 L955.4,298.9 L955.2,299.4 L955.0,299.9 L954.8,300.3 Z" fill="#fcd676" stroke="#f4b08c" stroke-width="2.2" stroke-linejoin="round"/>
<path d="M974.5,301.4 L974.6,301.6 L974.7,301.8 L974.8,302.0 L974.9,302.2 L975.0,302.5 L975.1,302.7 L975.2,302.9 L975.3,303.1 L975.4,303.4 L975.5,303.6 L975.5,303.8 L975.6,304.0 L975.7,304.3 L975.7,304.5 L975.8,304.7 L975.8,304.9 L975.8,305.2 L975.8,305.4 L975.8,305.6 L975.8,305.8 L975.8,306.0 L975.8,306.3 L975.7,306.5 L975.7,306.7 L975.7,306.9 L975.6,307.1 L975.5,307.3 L975.5,307.5 L975.4,307.7 L975.3,307.9 L975.2,308.0 L975.1,308.2 L975.0,308.4 L974.9,308.6 L974.8,308.7 L974.7,308.9 L974.6,309.1 L974.4,309.2 L974.3,309.4 L974.2,309.5 L974.0,309.6 L973.9,309.8 L973.8,309.9 L973.6,310.1 L973.5,310.2 L973.4,310.3 L973.2,310.4 L973.1,310.6 L973.1,310.7 L973.1,310.9 L973.1,311.1 L973.1,311.3 L973.1,311.4 L973.1,311.6 L973.1,311.8 L973.1,312.0 L973.1,312.1 L973.1,312.3 L973.1,312.5 L973.1,312.6 L973.0,312.8 L973.0,313.0 L973.0,313.1 L973.0,313.3 L972.9,313.5 L972.9,313.6 L972.8,313.8 L972.8,313.9 L972.7,314.1 L972.7,314.2 L972.6,314.4 L972.5,314.5 L972.4,314.6 L972.4,314.8 L972.3,314.9 L972.2,315.0 L972.1,315.2 L972.0,315.3 L971.9,315.4 L971.8,315.5 L971.7,315.6 L971.6,315.7 L971.5,315.8 L971.3,315.9 L971.2,316.0 L971.1,316.1 L971.0,316.2 L970.8,316.3 L970.7,316.4 L970.6,316.4 L970.4,316.5 L970.3,316.5 L970.1,316.6 L970.0,316.6 L969.8,316.7 L969.7,316.7 L969.5,316.8 L969.4,316.8 L969.2,316.8 L969.1,316.8 L968.9,316.8 L968.8,316.8 L968.6,316.8 L968.5,316.8 L968.3,316.8 L968.2,316.8 L968.0,316.8 L967.9,316.7 L967.7,316.7 L967.6,316.7 L967.5,316.7 L967.3,316.6 L967.2,316.6 L967.0,316.5 L966.9,316.5 L966.8,316.4 L966.7,316.4 L966.5,316.3 L966.4,316.3 L966.3,316.2 L966.2,316.3 L966.1,316.3 L965.9,316.4 L965.8,316.4 L965.7,316.5 L965.6,316.5 L965.4,316.6 L965.3,316.6 L965.1,316.7 L965.0,316.7 L964.9,316.7 L964.7,316.7 L964.6,316.8 L964.4,316.8 L964.3,316.8 L964.1,316.8 L964.0,316.8 L963.8,316.8 L963.7,316.8 L963.5,316.8 L963.4,316.8 L963.2,316.8 L963.1,316.8 L962.9,316.7 L962.8,316.7 L962.6,316.6 L962.5,316.6 L962.3,316.5 L962.2,316.5 L962.0,316.4 L961.9,316.4 L961.8,316.3 L961.6,316.2 L961.5,316.1 L961.4,316.0 L961.3,315.9 L961.1,315.8 L961.0,315.7 L960.9,315.6 L960.8,315.5 L960.7,315.4 L960.6,315.3 L960.5,315.2 L960.4,315.0 L960.3,314.9 L960.2,314.8 L960.2,314.6 L960.1,314.5 L960.0,314.4 L959.9,314.2 L959.9,314.1 L959.8,313.9 L959.8,313.8 L959.7,313.6 L959.7,313.5 L959.6,313.3 L959.6,313.1 L959.6,313.0 L959.6,312.8 L959.5,312.6 L959.5,312.5 L959.5,312.3 L959.5,312.1 L959.5,312.0 L959.5,311.8 L959.5,311.6 L959.5,311.4 L959.5,311.3 L959.5,311.1 L959.5,310.9 L959.5,310.7 L959.5,310.6 L959.4,310.4 L959.2,310.3 L959.1,310.2 L959.0,310.1 L958.8,309.9 L958.7,309.8 L958.6,309.6 L958.4,309.5 L958.3,309.4 L958.2,309.2 L958.0,309.1 L957.9,308.9 L957.8,308.7 L957.7,308.6 L957.6,308.4 L957.5,308.2 L957.4,308.0 L957.3,307.9 L957.2,307.7 L957.1,307.5 L957.1,307.3 L957.0,307.1 L956.9,306.9 L956.9,306.7 L956.9,306.5 L956.8,306.3 L956.8,306.0 L956.8,305.8 L956.8,305.6 L956.8,305.4 L956.8,305.2 L956.8,304.9 L956.8,304.7 L956.9,304.5 L956.9,304.3 L957.0,304.0 L957.1,303.8 L957.1,303.6 L957.2,303.4 L957.3,303.1 L957.4,302.9 L957.5,302.7 L957.6,302.5 L957.7,302.2 L957.8,302.0 L957.9,301.8 L958.0,301.6 L958.1,301.4 L958.0,301.2 L957.9,301.0 L957.8,300.8 L957.7,300.6 L957.6,300.3 L957.5,300.1 L957.4,299.9 L957.3,299.7 L957.2,299.4 L957.1,299.2 L957.1,299.0 L957.0,298.8 L956.9,298.5 L956.9,298.3 L956.8,298.1 L956.8,297.9 L956.8,297.6 L956.8,297.4 L956.8,297.2 L956.8,297.0 L956.8,296.8 L956.8,296.5 L956.9,296.3 L956.9,296.1 L956.9,295.9 L957.0,295.7 L957.1,295.5 L957.1,295.3 L957.2,295.1 L957.3,294.9 L957.4,294.8 L957.5,294.6 L957.6,294.4 L957.7,294.2 L957.8,294.1 L957.9,293.9 L958.0,293.7 L958.2,293.6 L958.3,293.4 L958.4,293.3 L958.6,293.2 L958.7,293.0 L958.8,292.9 L959.0,292.7 L959.1,292.6 L959.2,292.5 L959.4,292.4 L959.5,292.2 L959.5,292.1 L959.5,291.9 L959.5,291.7 L959.5,291.5 L959.5,291.4 L959.5,291.2 L959.5,291.0 L959.5,290.8 L959.5,290.7 L959.5,290.5 L959.5,290.3 L959.5,290.2 L959.6,290.0 L959.6,289.8 L959.6,289.7 L959.6,289.5 L959.7,289.3 L959.7,289.2 L959.8,289.0 L959.8,288.9 L959.9,288.7 L959.9,288.6 L960.0,288.4 L960.1,288.3 L960.2,288.2 L960.2,288.0 L960.3,287.9 L960.4,287.8 L960.5,287.6 L960.6,287.5 L960.7,287.4 L960.8,287.3 L960.9,287.2 L961.0,287.1 L961.1,287.0 L961.3,286.9 L961.4,286.8 L961.5,286.7 L961.6,286.6 L961.8,286.5 L961.9,286.4 L962.0,286.4 L962.2,286.3 L962.3,286.3 L962.5,286.2 L962.6,286.2 L962.8,286.1 L962.9,286.1 L963.1,286.0 L963.2,286.0 L963.4,286.0 L963.5,286.0 L963.7,286.0 L963.8,286.0 L964.0,286.0 L964.1,286.0 L964.3,286.0 L964.4,286.0 L964.6,286.0 L964.7,286.1 L964.9,286.1 L965.0,286.1 L965.1,286.1 L965.3,286.2 L965.4,286.2 L965.6,286.3 L965.7,286.3 L965.8,286.4 L965.9,286.4 L966.1,286.5 L966.2,286.5 L966.3,286.6 L966.4,286.5 L966.5,286.5 L966.7,286.4 L966.8,286.4 L966.9,286.3 L967.0,286.3 L967.2,286.2 L967.3,286.2 L967.5,286.1 L967.6,286.1 L967.7,286.1 L967.9,286.1 L968.0,286.0 L968.2,286.0 L968.3,286.0 L968.5,286.0 L968.6,286.0 L968.8,286.0 L968.9,286.0 L969.1,286.0 L969.2,286.0 L969.4,286.0 L969.5,286.0 L969.7,286.1 L969.8,286.1 L970.0,286.2 L970.1,286.2 L970.3,286.3 L970.4,286.3 L970.6,286.4 L970.7,286.4 L970.8,286.5 L971.0,286.6 L971.1,286.7 L971.2,286.8 L971.3,286.9 L971.5,287.0 L971.6,287.1 L971.7,287.2 L971.8,287.3 L971.9,287.4 L972.0,287.5 L972.1,287.6 L972.2,287.8 L972.3,287.9 L972.4,288.0 L972.4,288.2 L972.5,288.3 L972.6,288.4 L972.7,288.6 L972.7,288.7 L972.8,288.9 L972.8,289.0 L972.9,289.2 L972.9,289.3 L973.0,289.5 L973.0,289.7 L973.0,289.8 L973.0,290.0 L973.1,290.2 L973.1,290.3 L973.1,290.5 L973.1,290.7 L973.1,290.8 L973.1,291.0 L973.1,291.2 L973.1,291.4 L973.1,291.5 L973.1,291.7 L973.1,291.9 L973.1,292.1 L973.1,292.2 L973.2,292.4 L973.4,292.5 L973.5,292.6 L973.6,292.7 L973.8,292.9 L973.9,293.0 L974.0,293.2 L974.2,293.3 L974.3,293.4 L974.4,293.6 L974.6,293.7 L974.7,293.9 L974.8,294.1 L974.9,294.2 L975.0,294.4 L975.1,294.6 L975.2,294.8 L975.3,294.9 L975.4,295.1 L975.5,295.3 L975.5,295.5 L975.6,295.7 L975.7,295.9 L975.7,296.1 L975.7,296.3 L975.8,296.5 L975.8,296.8 L975.8,297.0 L975.8,297.2 L975.8,297.4 L975.8,297.6 L975.8,297.9 L975.8,298.1 L975.7,298.3 L975.7,298.5 L975.6,298.8 L975.5,299.0 L975.5,299.2 L975.4,299.4 L975.3,299.7 L975.2,299.9 L975.1,300.1 L975.0,300.3 L974.9,300.6 L974.8,300.8 L974.7,301.0 L974.6,301.2 Z" fill="#fcd676" stroke="#f4b08c" stroke-width="2.2" stroke-linejoin="round"/>
<defs><radialGradient id="kidg" cx="0.42" cy="0.3" r="0.85"><stop offset="0" stop-color="#f17a60"/><stop offset="0.55" stop-color="#dc3e30"/><stop offset="1" stop-color="#bf1d22"/></radialGradient></defs>
<path d="M906.5 953 Q916.5 942 927 953 M969.0 953 Q959.0 942 948.5 953" stroke="#fde3a8" stroke-width="6" fill="none" stroke-linecap="round"/>
<path d="M909 952 Q916.5 946 924 952 M966.5 952 Q959.0 946 951.5 952" stroke="#f6b8a4" stroke-width="2.2" fill="none" stroke-linecap="round"/>
<path d="M916 952.5 C927.5 952.5 931.5 961 930 970 C928.5 975 924 977 924.5 982.5 C926 990 928 999 915 999 C904.5 999 901.5 988 901.5 976 C901.5 961.5 905.5 952.5 916 952.5 Z" fill="url(#kidg)" stroke="#fde0a0" stroke-width="3"/>
<path d="M 959.5 952.5 C 948.0 952.5 944.0 961.0 945.5 970.0 C 947.0 975.0 951.5 977.0 951.0 982.5 C 949.5 990.0 947.5 999.0 960.5 999.0 C 971.0 999.0 974.0 988.0 974.0 976.0 C 974.0 961.5 970.0 952.5 959.5 952.5 Z" fill="url(#kidg)" stroke="#fde0a0" stroke-width="3"/>
<path d="M906 970 Q907 960 913 957 M969.5 970 Q968.5 960 962.5 957" stroke="#f8b0a0" stroke-width="1.6" fill="none" stroke-linecap="round"/>
<path d="M620,352 C617.7,360.0 610.2,388.7 606,400 C601.8,411.3 598.8,411.7 595,420 C591.2,428.3 586.0,438.3 583,450 C580.0,461.7 578.0,476.7 577,490 C576.0,503.3 576.2,516.7 577,530 C577.8,543.3 579.5,555.0 582,570 C584.5,585.0 589.5,603.3 592,620 C594.5,636.7 596.3,653.3 597,670 C597.7,686.7 597.5,703.0 596,720 C594.5,737.0 591.0,756.2 588,772 C585.0,787.8 579.8,800.3 578,815 C576.2,829.7 574.8,843.5 577,860 C579.2,876.5 585.8,897.8 591.5,914 C597.2,930.2 607.2,944.3 611,957 C614.8,969.7 613.5,984.5 614,990 Q620.5,998 627,990  C626.5,984.5 627.8,969.7 624,957 C620.2,944.3 609.9,930.2 604.5,914 C599.1,897.8 593.6,876.5 591.5,860 C589.4,843.5 590.3,829.7 592,815 C593.7,800.3 598.0,787.8 601.7,772 C605.4,756.2 611.6,737.0 614,720 C616.4,703.0 616.2,686.7 616,670 C615.8,653.3 615.2,636.7 613,620 C610.8,603.3 605.7,585.0 603,570 C600.3,555.0 598.2,543.3 597,530 C595.8,516.7 594.8,503.3 596,490 C597.2,476.7 600.2,461.7 604,450 C607.8,438.3 612.0,428.3 619,420 C626.0,411.7 636.8,411.3 646,400 C655.2,388.7 669.3,360.0 674,352 Z" fill="#fde39d"/>
<defs><linearGradient id="brg" gradientUnits="userSpaceOnUse" x1="563" x2="736" y1="0" y2="0"><stop offset="0" stop-color="#f9a283"/><stop offset="1" stop-color="#fcc8b8"/></linearGradient></defs>
<path d="M563.3,321.7 L563.0,320.9 L562.6,320.1 L562.3,319.2 L562.0,318.3 L561.8,317.3 L561.6,316.3 L561.6,315.2 L561.7,314.2 L561.9,313.1 L562.2,312.0 L562.7,311.0 L563.4,309.9 L564.1,308.9 L564.9,307.8 L565.6,306.8 L565.3,305.5 L564.9,304.2 L564.7,303.0 L564.6,301.7 L564.6,300.5 L564.8,299.4 L565.1,298.3 L565.6,297.3 L566.1,296.3 L566.8,295.4 L567.5,294.6 L568.2,293.8 L569.0,293.1 L569.6,292.4 L569.5,291.5 L569.5,290.6 L569.5,289.8 L569.5,289.0 L569.6,288.2 L569.7,287.5 L569.9,286.8 L570.2,286.1 L570.5,285.5 L570.8,284.9 L571.2,284.4 L571.6,283.9 L572.0,283.5 L572.5,283.1 L573.0,282.7 L573.5,282.4 L574.0,282.1 L574.6,281.9 L575.1,281.7 L575.7,281.5 L576.3,281.3 L576.9,281.2 L577.5,281.0 L578.2,280.9 L578.7,280.6 L578.9,280.0 L579.2,279.4 L579.5,278.7 L579.8,278.1 L580.1,277.4 L580.4,276.8 L580.8,276.2 L581.3,275.6 L581.8,275.0 L582.3,274.5 L582.9,274.0 L583.5,273.5 L584.2,273.2 L584.9,272.8 L585.7,272.5 L586.5,272.3 L587.4,272.1 L588.3,271.9 L589.2,271.8 L590.1,271.7 L590.7,271.1 L591.1,270.2 L591.6,269.4 L592.1,268.6 L592.6,267.9 L593.2,267.2 L593.8,266.6 L594.5,266.0 L595.2,265.5 L596.0,265.1 L596.8,264.8 L597.6,264.5 L598.5,264.3 L599.4,264.2 L600.3,264.2 L601.3,264.1 L602.2,264.2 L603.2,264.2 L603.8,263.6 L604.4,262.8 L605.0,262.1 L605.7,261.4 L606.3,260.8 L607.0,260.2 L607.8,259.7 L608.6,259.3 L609.4,258.9 L610.2,258.6 L611.1,258.5 L612.0,258.4 L613.0,258.4 L613.9,258.4 L614.9,258.6 L615.9,258.7 L616.9,258.9 L617.7,258.6 L618.5,257.9 L619.2,257.2 L620.0,256.5 L620.8,256.0 L621.6,255.5 L622.5,255.1 L623.4,254.8 L624.3,254.5 L625.3,254.4 L626.3,254.4 L627.2,254.5 L628.3,254.7 L629.3,254.9 L630.3,255.3 L631.4,255.6 L632.4,255.4 L633.3,254.8 L634.2,254.1 L635.2,253.6 L636.1,253.1 L637.1,252.7 L638.2,252.4 L639.2,252.3 L640.2,252.3 L641.3,252.4 L642.4,252.6 L643.4,252.9 L644.5,253.3 L645.6,253.8 L646.6,254.3 L647.6,253.8 L648.7,253.2 L649.7,252.7 L650.7,252.2 L651.7,251.9 L652.7,251.7 L653.8,251.6 L654.8,251.6 L655.8,251.7 L656.8,252.0 L657.7,252.3 L658.7,252.7 L659.7,253.2 L660.6,253.8 L661.6,254.4 L662.6,254.0 L663.6,253.6 L664.6,253.2 L665.6,252.9 L666.6,252.6 L667.6,252.5 L668.6,252.5 L669.6,252.5 L670.5,252.7 L671.5,253.0 L672.4,253.4 L673.3,253.9 L674.2,254.5 L675.1,255.1 L675.9,255.8 L676.8,256.1 L677.9,255.8 L678.9,255.5 L679.9,255.3 L680.9,255.2 L682.0,255.1 L682.9,255.2 L683.9,255.3 L684.8,255.5 L685.7,255.9 L686.6,256.3 L687.4,256.9 L688.2,257.5 L689.0,258.2 L689.7,259.0 L690.4,259.8 L691.3,260.2 L692.4,260.0 L693.4,259.9 L694.5,259.9 L695.5,259.9 L696.5,260.0 L697.5,260.2 L698.4,260.5 L699.3,260.9 L700.1,261.4 L700.9,262.0 L701.7,262.7 L702.3,263.4 L703.0,264.3 L703.6,265.1 L704.1,266.0 L704.9,266.5 L705.9,266.5 L707.0,266.6 L708.0,266.7 L708.9,266.9 L709.8,267.2 L710.7,267.5 L711.5,267.9 L712.2,268.4 L712.9,269.0 L713.6,269.7 L714.1,270.4 L714.6,271.2 L715.1,272.0 L715.5,272.9 L715.8,273.8 L716.1,274.7 L716.6,275.5 L717.5,275.8 L718.4,276.1 L719.3,276.4 L720.2,276.8 L721.0,277.2 L721.7,277.7 L722.4,278.3 L723.0,278.9 L723.6,279.6 L724.0,280.3 L724.5,281.0 L724.8,281.8 L725.1,282.6 L725.3,283.5 L725.5,284.4 L725.6,285.3 L725.7,286.2 L725.9,287.0 L726.7,287.4 L727.4,287.8 L728.2,288.3 L728.9,288.8 L729.5,289.3 L730.2,289.8 L730.7,290.4 L731.2,291.1 L731.7,291.7 L732.1,292.4 L732.4,293.2 L732.6,293.9 L732.8,294.7 L732.9,295.5 L732.9,296.3 L732.9,297.2 L732.9,298.0 L732.8,298.9 L732.7,299.7 L732.8,300.4 L733.4,301.0 L734.0,301.5 L734.6,302.1 L735.1,302.7 L735.6,303.3 L736.0,303.9 L736.4,304.5 L736.7,305.1 L737.0,305.8 L737.2,306.4 L737.4,307.1 L737.5,307.7 L737.5,308.4 L737.5,309.1 L737.5,309.7 L737.4,310.4 L737.3,311.1 L737.1,311.7 L736.9,312.4 L736.7,313.0 L736.4,313.7 L736.2,314.3 L736.0,314.9 L736.4,315.4 L736.7,316.0 L737.0,316.6 L737.3,317.2 L737.6,317.8 L737.8,318.3 L738.0,318.9 L738.1,319.5 L738.2,320.1 L738.3,320.7 L738.3,321.3 L738.3,321.9 L738.2,322.4 L738.1,323.0 L738.0,323.6 L737.8,324.1 L737.6,324.6 L737.3,325.1 L737.0,325.6 L736.7,326.1 L736.4,326.5 L736.0,326.9 L735.6,327.3 L735.2,327.7 L734.8,328.1 L734.4,328.4 L734.0,328.7 L733.5,329.1 L733.3,329.5 L733.2,330.0 L733.2,330.5 L733.2,331.1 L733.1,331.6 L733.0,332.2 L732.8,332.7 L732.7,333.2 L732.5,333.7 L732.3,334.2 L732.1,334.7 L731.8,335.2 L731.5,335.7 L731.2,336.1 L730.8,336.5 L730.4,336.9 L730.0,337.3 L729.6,337.6 L729.1,337.9 L728.6,338.2 L728.1,338.5 L727.5,338.7 L726.9,338.9 L726.3,339.0 L725.6,339.2 L725.0,339.2 L724.3,339.3 L723.6,339.3 L722.9,339.3 L722.4,339.4 L721.9,340.0 L721.5,340.6 L721.1,341.1 L720.6,341.6 L720.1,342.1 L719.6,342.6 L719.1,343.1 L718.6,343.5 L718.0,343.9 L717.5,344.2 L716.9,344.5 L716.3,344.7 L715.7,344.9 L715.1,345.1 L714.4,345.2 L713.8,345.3 L713.1,345.4 L712.4,345.5 L711.8,345.5 L711.0,345.5 L710.3,345.5 L709.6,345.6 L708.9,345.7 L708.6,346.4 L708.3,347.1 L708.0,347.7 L707.7,348.3 L707.3,349.0 L707.0,349.6 L706.6,350.1 L706.2,350.7 L705.8,351.2 L705.4,351.7 L704.9,352.2 L704.3,352.6 L703.8,353.0 L703.2,353.3 L702.5,353.6 L701.8,353.9 L701.1,354.1 L700.3,354.3 L699.6,354.5 L698.8,354.6 L698.0,354.7 L697.2,354.7 L696.8,355.4 L696.3,356.1 L695.8,356.8 L695.3,357.4 L694.7,358.0 L694.1,358.6 L693.4,359.1 L692.7,359.6 L692.0,359.9 L691.2,360.2 L690.4,360.5 L689.6,360.6 L688.7,360.7 L687.8,360.7 L686.9,360.6 L685.9,360.5 L685.0,360.3 L684.0,360.0 L683.1,359.9 L682.3,360.6 L681.5,361.2 L680.7,361.8 L679.9,362.4 L679.1,362.8 L678.2,363.2 L677.3,363.5 L676.4,363.7 L675.5,363.8 L674.6,363.8 L673.6,363.7 L672.7,363.5 L671.8,363.2 L670.9,362.9 L670.0,362.5 L669.1,362.1 L668.3,361.8 L667.4,362.2 L666.5,362.6 L665.6,362.9 L664.6,363.2 L663.6,363.4 L662.6,363.4 L661.6,363.4 L660.6,363.3 L659.7,363.0 L658.7,362.6 L657.8,362.2 L657.0,361.6 L656.2,360.9 L655.4,360.2 L654.6,359.5 L653.8,358.8 L652.8,358.9 L651.8,359.1 L650.9,359.3 L649.9,359.5 L649.1,359.5 L648.2,359.6 L647.5,359.6 L646.7,359.5 L646.1,359.4 L645.5,359.3 L644.9,359.2 L644.4,359.0 L643.9,358.9 L643.5,358.7 L643.1,358.6 L642.7,358.4 L642.3,358.3 L641.9,358.3 L641.6,358.2 L641.2,358.2 L640.9,358.2 L640.5,358.3 L640.1,358.4 L639.7,358.6 L639.7,359.0 L639.7,359.4 L639.7,359.8 L639.7,360.2 L639.7,360.6 L639.7,361.1 L639.8,361.5 L639.8,361.9 L639.7,362.4 L639.7,362.9 L639.6,363.3 L639.4,363.8 L639.2,364.3 L639.0,364.8 L638.7,365.3 L638.3,365.8 L637.8,366.3 L637.3,366.7 L636.7,367.0 L636.1,367.3 L635.6,367.5 L635.0,367.7 L634.4,367.8 L633.8,367.9 L633.1,367.9 L632.4,367.9 L631.7,367.9 L630.9,367.9 L630.2,367.8 L629.4,367.7 L628.6,367.6 L628.1,368.2 L627.5,368.8 L626.9,369.4 L626.3,369.9 L625.6,370.4 L624.9,370.9 L624.2,371.2 L623.5,371.6 L622.7,371.8 L622.0,372.0 L621.2,372.1 L620.4,372.2 L619.6,372.1 L618.8,372.0 L618.0,371.8 L617.2,371.6 L616.4,371.3 L615.7,370.9 L615.0,370.5 L614.3,370.1 L613.6,370.2 L612.8,370.5 L612.0,370.8 L611.2,371.0 L610.4,371.2 L609.6,371.4 L608.7,371.5 L607.9,371.5 L607.1,371.4 L606.3,371.3 L605.5,371.1 L604.7,370.8 L603.9,370.4 L603.2,369.9 L602.5,369.4 L601.8,368.8 L601.2,368.2 L600.6,367.5 L600.0,366.9 L599.3,366.4 L598.4,366.5 L597.6,366.5 L596.7,366.6 L595.8,366.5 L595.0,366.5 L594.2,366.3 L593.4,366.1 L592.7,365.9 L592.0,365.5 L591.3,365.1 L590.7,364.7 L590.1,364.1 L589.6,363.5 L589.1,362.9 L588.7,362.2 L588.3,361.5 L587.9,360.8 L587.6,360.0 L587.4,359.2 L587.1,358.4 L586.4,358.1 L585.6,357.9 L584.8,357.6 L584.1,357.3 L583.4,357.0 L582.7,356.6 L582.0,356.2 L581.4,355.7 L580.9,355.2 L580.4,354.7 L579.9,354.2 L579.5,353.6 L579.1,353.0 L578.8,352.3 L578.5,351.7 L578.3,351.0 L578.1,350.3 L577.9,349.6 L577.7,348.9 L577.5,348.1 L577.3,347.4 L576.8,346.9 L576.1,346.7 L575.3,346.4 L574.6,346.1 L574.0,345.8 L573.3,345.4 L572.7,345.1 L572.1,344.7 L571.6,344.2 L571.0,343.8 L570.6,343.3 L570.2,342.7 L569.8,342.2 L569.5,341.6 L569.2,341.0 L568.9,340.3 L568.7,339.7 L568.5,339.0 L568.4,338.3 L568.3,337.7 L568.2,337.0 L568.1,336.3 L568.0,335.7 L567.7,335.2 L567.1,334.9 L566.6,334.6 L566.1,334.3 L565.6,333.9 L565.1,333.6 L564.7,333.4 L564.4,333.1 L564.0,332.8 L563.7,332.6 L563.4,332.3 L563.1,332.0 L562.9,331.7 L562.6,331.5 L562.4,331.2 L562.2,330.9 L562.0,330.5 L561.8,330.2 L561.6,329.8 L561.5,329.4 L561.3,329.0 L561.2,328.6 L561.2,328.1 L561.1,327.7 L561.1,327.2 L561.2,326.7 L561.2,326.2 L561.3,325.7 L561.5,325.2 L561.7,324.7 L561.9,324.1 L562.2,323.6 L562.5,323.0 L562.9,322.3 Z" fill="url(#brg)"/>
<path d="M576,345 C590,352 615,356 643,350 C650,356 645,366 630,369 C612,373 590,368 576,345 Z" fill="#f89c76"/>
<text x="597.5" y="319" font-size="34" fill="#ffffff" text-anchor="start" font-weight="bold" textLength="107" lengthAdjust="spacingAndGlyphs" stroke="#ffffff" stroke-width="1.6" stroke-linejoin="round">BRAIN</text>
<rect x="614" y="365" width="25" height="46" rx="9" fill="#f6a898"/>
<path d="M677,405 C674.2,410.8 666.5,427.5 660,440 C653.5,452.5 642.7,467.5 638,480 C633.3,492.5 632.7,504.2 632,515 C631.3,525.8 633.7,540.0 634,545" fill="none" stroke="#fbcf78" stroke-width="18" stroke-linecap="round"/>
<g fill="#fbcf78"><circle cx="677.0" cy="405.0" r="9.8"/><circle cx="671.2" cy="417.2" r="8.8"/><circle cx="665.5" cy="429.1" r="9.8"/><circle cx="659.5" cy="440.9" r="8.8"/><circle cx="652.6" cy="452.8" r="9.8"/><circle cx="645.9" cy="464.1" r="8.8"/><circle cx="639.6" cy="476.2" r="9.8"/><circle cx="635.2" cy="489.2" r="8.8"/><circle cx="633.0" cy="502.5" r="9.8"/><circle cx="632.0" cy="515.8" r="8.8"/><circle cx="632.4" cy="529.7" r="9.8"/><circle cx="633.8" cy="542.7" r="8.8"/></g>
<rect x="537.5" y="410" width="27.5" height="135" rx="10" fill="#fbec9e"/>
<rect x="538" y="548" width="26.5" height="234" rx="10" fill="#ddf3fb"/>
<rect x="538" y="784" width="27" height="99" rx="10" fill="#fce2dc"/>
<rect x="537" y="886" width="29" height="99" rx="10" fill="#e7ec9c"/>
<rect x="537" y="987" width="29" height="20" rx="9" fill="#f4f0a0"/>
<text x="551.5" y="424.5" font-size="13" fill="#d69031" text-anchor="middle" font-weight="bold" >C1</text>
<text x="551.5" y="441.3" font-size="13" fill="#d69031" text-anchor="middle" font-weight="bold" >C2</text>
<text x="551.5" y="458.1" font-size="13" fill="#d69031" text-anchor="middle" font-weight="bold" >C3</text>
<text x="551.5" y="474.9" font-size="13" fill="#d69031" text-anchor="middle" font-weight="bold" >C4</text>
<text x="551.5" y="491.7" font-size="13" fill="#d69031" text-anchor="middle" font-weight="bold" >C5</text>
<text x="551.5" y="508.5" font-size="13" fill="#d69031" text-anchor="middle" font-weight="bold" >C6</text>
<text x="551.5" y="525.3" font-size="13" fill="#d69031" text-anchor="middle" font-weight="bold" >C7</text>
<text x="551.5" y="542.1" font-size="13" fill="#d69031" text-anchor="middle" font-weight="bold" >C8</text>
<text x="551.5" y="563.2" font-size="13" fill="#5b9ea3" text-anchor="middle" font-weight="bold" >T1</text>
<text x="551.5" y="582.5" font-size="13" fill="#5b9ea3" text-anchor="middle" font-weight="bold" >T2</text>
<text x="551.5" y="602.2" font-size="13" fill="#5b9ea3" text-anchor="middle" font-weight="bold" >T3</text>
<text x="551.5" y="621.5" font-size="13" fill="#5b9ea3" text-anchor="middle" font-weight="bold" >T4</text>
<text x="551.5" y="641.2" font-size="13" fill="#5b9ea3" text-anchor="middle" font-weight="bold" >T5</text>
<text x="551.5" y="660.0" font-size="13" fill="#5b9ea3" text-anchor="middle" font-weight="bold" >T6</text>
<text x="551.5" y="680.2" font-size="13" fill="#5b9ea3" text-anchor="middle" font-weight="bold" >T7</text>
<text x="551.5" y="699.0" font-size="13" fill="#5b9ea3" text-anchor="middle" font-weight="bold" >T8</text>
<text x="551.5" y="718.0" font-size="13" fill="#5b9ea3" text-anchor="middle" font-weight="bold" >T9</text>
<text x="551.5" y="737.5" font-size="13" fill="#5b9ea3" text-anchor="middle" font-weight="bold" >T10</text>
<text x="551.5" y="757.0" font-size="13" fill="#5b9ea3" text-anchor="middle" font-weight="bold" >T11</text>
<text x="551.5" y="776.5" font-size="13" fill="#5b9ea3" text-anchor="middle" font-weight="bold" >T12</text>
<text x="551.5" y="799.5" font-size="13" fill="#e9a794" text-anchor="middle" font-weight="bold" >L1</text>
<text x="551.5" y="818.5" font-size="13" fill="#e9a794" text-anchor="middle" font-weight="bold" >L2</text>
<text x="551.5" y="838.5" font-size="13" fill="#e9a794" text-anchor="middle" font-weight="bold" >L3</text>
<text x="551.5" y="858.5" font-size="13" fill="#e9a794" text-anchor="middle" font-weight="bold" >L4</text>
<text x="551.5" y="878.5" font-size="13" fill="#e9a794" text-anchor="middle" font-weight="bold" >L5</text>
<text x="551.5" y="898.5" font-size="13" fill="#1e8a3c" text-anchor="middle" font-weight="bold" >S1</text>
<text x="551.5" y="918.5" font-size="13" fill="#1e8a3c" text-anchor="middle" font-weight="bold" >S2</text>
<text x="551.5" y="939.5" font-size="13" fill="#1e8a3c" text-anchor="middle" font-weight="bold" >S3</text>
<text x="551.5" y="961.5" font-size="13" fill="#1e8a3c" text-anchor="middle" font-weight="bold" >S4</text>
<text x="551.5" y="981.5" font-size="13" fill="#1e8a3c" text-anchor="middle" font-weight="bold" >S5</text>
<text x="551.5" y="1001.5" font-size="13" fill="#9bb23c" text-anchor="middle" font-weight="bold" >Co1</text>
<ellipse cx="635.5" cy="557" rx="9" ry="10.8" fill="#5db6c7" stroke="#52a9ba" stroke-width="1"/>
<ellipse cx="640.5" cy="576" rx="9" ry="10.8" fill="#5db6c7" stroke="#52a9ba" stroke-width="1"/>
<ellipse cx="644" cy="596" rx="9" ry="10.8" fill="#5db6c7" stroke="#52a9ba" stroke-width="1"/>
<ellipse cx="649" cy="616.5" rx="9" ry="10.8" fill="#5db6c7" stroke="#52a9ba" stroke-width="1"/>
<ellipse cx="652" cy="636" rx="9" ry="10.8" fill="#5db6c7" stroke="#52a9ba" stroke-width="1"/>
<ellipse cx="654.5" cy="653" rx="9" ry="10.8" fill="#5db6c7" stroke="#52a9ba" stroke-width="1"/>
<ellipse cx="654" cy="676" rx="9" ry="10.8" fill="#5db6c7" stroke="#52a9ba" stroke-width="1"/>
<ellipse cx="652" cy="693" rx="9" ry="10.8" fill="#5db6c7" stroke="#52a9ba" stroke-width="1"/>
<ellipse cx="649.7" cy="713" rx="9" ry="10.8" fill="#5db6c7" stroke="#52a9ba" stroke-width="1"/>
<ellipse cx="647.5" cy="732.5" rx="9" ry="10.8" fill="#5db6c7" stroke="#52a9ba" stroke-width="1"/>
<ellipse cx="643" cy="753.5" rx="9" ry="10.8" fill="#5db6c7" stroke="#52a9ba" stroke-width="1"/>
<ellipse cx="638.5" cy="772" rx="9" ry="10.8" fill="#5db6c7" stroke="#52a9ba" stroke-width="1"/>
<ellipse cx="633" cy="795" rx="8" ry="11" fill="#f6a88b"/>
<ellipse cx="631" cy="815" rx="8" ry="11" fill="#f6a88b"/>
<ellipse cx="630" cy="836" rx="8" ry="11" fill="#f6a88b"/>
<ellipse cx="630" cy="856" rx="8" ry="11" fill="#f6a88b"/>
<ellipse cx="631" cy="875" rx="8" ry="11" fill="#f6a88b"/>
<ellipse cx="634.6" cy="896" rx="8.5" ry="11" fill="#1b8a3f" transform="rotate(-25 634.6 896)"/>
<ellipse cx="640.3" cy="914" rx="8.5" ry="11" fill="#1b8a3f" transform="rotate(-25 640.3 914)"/>
<ellipse cx="647.6" cy="932" rx="8.5" ry="11" fill="#1b8a3f" transform="rotate(-25 647.6 932)"/>
<ellipse cx="655" cy="951" rx="8.5" ry="11" fill="#1b8a3f" transform="rotate(-25 655 951)"/>
<ellipse cx="661.5" cy="970" rx="8.5" ry="11" fill="#1b8a3f" transform="rotate(-25 661.5 970)"/>
<ellipse cx="665.5" cy="991" rx="7.5" ry="9" fill="#8bc04a"/>
<text x="456.5" y="477" font-size="15" fill="#e0913a" text-anchor="start" font-weight="bold" textLength="61" lengthAdjust="spacingAndGlyphs" >Cervical</text>
<text x="462.0" y="496" font-size="15" fill="#e0913a" text-anchor="start" font-weight="bold" textLength="50" lengthAdjust="spacingAndGlyphs" >Nerves</text>
<text x="455.0" y="659" font-size="15" fill="#6cb2b8" text-anchor="start" font-weight="bold" textLength="64" lengthAdjust="spacingAndGlyphs" >Thoracic</text>
<text x="462.0" y="678" font-size="15" fill="#6cb2b8" text-anchor="start" font-weight="bold" textLength="50" lengthAdjust="spacingAndGlyphs" >Nerves</text>
<text x="458" y="829" font-size="15" fill="#eeab97" text-anchor="start" font-weight="bold" textLength="57.3" lengthAdjust="spacingAndGlyphs" stroke="#eeab97" stroke-width="0.55">Lumbar</text>
<text x="462" y="847.4" font-size="15" fill="#eeab97" text-anchor="start" font-weight="bold" textLength="49.5" lengthAdjust="spacingAndGlyphs" stroke="#eeab97" stroke-width="0.55">Nerves</text>
<text x="456.6" y="1001.8" font-size="15" fill="#9cc04c" text-anchor="start" font-weight="bold" textLength="73.9" lengthAdjust="spacingAndGlyphs" stroke="#9cc04c" stroke-width="0.55">Coccygeal</text>
<text x="468.8" y="1020.7" font-size="15" fill="#9cc04c" text-anchor="start" font-weight="bold" textLength="50.1" lengthAdjust="spacingAndGlyphs" stroke="#9cc04c" stroke-width="0.55">Nerves</text>
<text x="552.7" y="1051.3" font-size="15" fill="#173e5c" text-anchor="start" font-weight="bold" textLength="47.3" lengthAdjust="spacingAndGlyphs" stroke="#173e5c" stroke-width="0.55">Spinal</text>
<text x="559.5" y="1069.5" font-size="15" fill="#173e5c" text-anchor="start" font-weight="bold" textLength="33.8" lengthAdjust="spacingAndGlyphs" stroke="#173e5c" stroke-width="0.55">Cord</text>
<text x="551.4" y="1121" font-size="15" fill="#173e5c" text-anchor="start" font-weight="bold" textLength="94.6" lengthAdjust="spacingAndGlyphs" stroke="#173e5c" stroke-width="0.55">Sympathetic</text>
<text x="576.5" y="1138.6" font-size="15" fill="#173e5c" text-anchor="start" font-weight="bold" textLength="43.9" lengthAdjust="spacingAndGlyphs" stroke="#173e5c" stroke-width="0.55">Chain</text>
<path d="M621.8,984 L590.6,1034.3 M665,993.7 L597.4,1102" stroke="#173e5c" stroke-width="2.2" fill="none"/>
<path d="M631,374 L433.0,374.0 Q418,374 418.0,359.0 L418.0,236.0 Q418,221 403.0,221.0 L336,221" fill="none" stroke="#1a69a6" stroke-width="3.7" stroke-linecap="round"/>
<path d="M342.5,216.0 L334.3,221 L342.5,226.0" fill="none" stroke="#1a69a6" stroke-width="4.2" stroke-linecap="round" stroke-linejoin="round"/>
<path d="M489,387.5 L414.0,387.5 Q399,387.5 399.0,372.5 L399.0,314.0 Q399,299 384.0,299.0 L364,299" fill="none" stroke="#1a69a6" stroke-width="3.7" stroke-linecap="round"/>
<path d="M371.0,294.0 L362.8,299 L371.0,304.0" fill="none" stroke="#1a69a6" stroke-width="4.2" stroke-linecap="round" stroke-linejoin="round"/>
<path d="M611,387.5 L626,387.5" fill="none" stroke="#1a69a6" stroke-width="3.7" stroke-linecap="round"/>
<path d="M623,400 L352,400" fill="none" stroke="#1a69a6" stroke-width="3.7" stroke-linecap="round"/>
<path d="M359.0,395.0 L350.8,400 L359.0,405.0" fill="none" stroke="#1a69a6" stroke-width="4.2" stroke-linecap="round" stroke-linejoin="round"/>
<path d="M412,400 L412.0,400.0 Q398,400 398.0,414.0 L398.0,850.0 Q398,865 383.0,865.0 L344,865" fill="none" stroke="#1a69a6" stroke-width="3.7" stroke-linecap="round"/>
<path d="M350.5,860.0 L342.3,865 L350.5,870.0" fill="none" stroke="#1a69a6" stroke-width="4.2" stroke-linecap="round" stroke-linejoin="round"/>
<path d="M398,500.5 L398.0,501.5 Q398,516.5 383.0,516.5 L324,516.5" fill="none" stroke="#1a69a6" stroke-width="3.7" stroke-linecap="round"/>
<path d="M331.0,511.5 L322.8,516.5 L331.0,521.5" fill="none" stroke="#1a69a6" stroke-width="4.2" stroke-linecap="round" stroke-linejoin="round"/>
<path d="M398,623.3 L398.0,624.3 Q398,639.3 383.0,639.3 L342,639.3" fill="none" stroke="#1a69a6" stroke-width="3.7" stroke-linecap="round"/>
<path d="M349.0,634.3 L340.8,639.3 L349.0,644.3" fill="none" stroke="#1a69a6" stroke-width="4.2" stroke-linecap="round" stroke-linejoin="round"/>
<path d="M398,721 L398.0,722.0 Q398,737 383.0,737.0 L352.6,737" fill="none" stroke="#1a69a6" stroke-width="3.7" stroke-linecap="round"/>
<path d="M359.6,732.0 L351.40000000000003,737 L359.6,742.0" fill="none" stroke="#1a69a6" stroke-width="4.2" stroke-linecap="round" stroke-linejoin="round"/>
<circle cx="631" cy="374" r="5" fill="#1a69a6"/>
<circle cx="626" cy="387.5" r="5" fill="#1a69a6"/>
<circle cx="623" cy="400" r="5" fill="#1a69a6"/>
<text x="493" y="392" font-size="15" fill="#e07f9c" text-anchor="start" font-weight="bold" textLength="115" lengthAdjust="spacingAndGlyphs" stroke="#e07f9c" stroke-width="0.55">Cranial Nerves</text>
<path d="M597,913.3 L435,913.3 A22.35,22.35 0 0 0 435,958 L617,958" fill="none" stroke="#1a69a6" stroke-width="4" opacity="0.92"/>
<path d="M607.8,935 L535,935" fill="none" stroke="#1a69a6" stroke-width="3.7" stroke-linecap="round"/>
<path d="M428,935 L395.5,935.0 Q379.5,935 379.5,951.0 L379.5,1048.5 Q379.5,1064.5 363.5,1064.5 L204.8,1064.5 Q188.75,1064.5 188.8,1080.5 L188.75,1089" fill="none" stroke="#1a69a6" stroke-width="3.7" stroke-linecap="round"/>
<path d="M183.75,1082.5 L188.75,1090.7 L193.75,1082.5" fill="none" stroke="#1a69a6" stroke-width="4.2" stroke-linecap="round" stroke-linejoin="round"/>
<path d="M379.5,995 L379.5,997.7 Q379.5,1012.7 364.5,1012.7 L323,1012.7" fill="none" stroke="#1a69a6" stroke-width="3.7" stroke-linecap="round"/>
<path d="M330.0,1007.7 L321.8,1012.7 L330.0,1017.7" fill="none" stroke="#1a69a6" stroke-width="4.2" stroke-linecap="round" stroke-linejoin="round"/>
<path d="M362,1064.5 L348.0,1064.5 Q334,1064.5 334.0,1078.5 L334,1089" fill="none" stroke="#1a69a6" stroke-width="3.7" stroke-linecap="round"/>
<path d="M329.0,1082.5 L334,1090.7 L339.0,1082.5" fill="none" stroke="#1a69a6" stroke-width="4.2" stroke-linecap="round" stroke-linejoin="round"/>
<circle cx="597" cy="913.3" r="5" fill="#1a69a6"/>
<circle cx="607.8" cy="935" r="5" fill="#1a69a6"/>
<circle cx="616.7" cy="958" r="5" fill="#1a69a6"/>
<text x="433" y="939.5" font-size="15" fill="#1e7b3f" text-anchor="start" font-weight="bold" textLength="99.4" lengthAdjust="spacingAndGlyphs" stroke="#1e7b3f" stroke-width="0.55">Sacral Nerves</text>
<text x="551.5" y="918.5" font-size="13" fill="#1e8a3c" text-anchor="middle" font-weight="bold" opacity="0.55">S2</text>
<text x="551.5" y="939.5" font-size="13" fill="#1e8a3c" text-anchor="middle" font-weight="bold" opacity="0.55">S3</text>
<text x="551.5" y="961.5" font-size="13" fill="#1e8a3c" text-anchor="middle" font-weight="bold" opacity="0.55">S4</text>
<path d="M592,556.8 L784.0,556.8 Q799,556.8 799.0,541.8 L799.0,244.0 Q799,229 814.0,229.0 L842,229" fill="none" stroke="#cd4c38" stroke-width="3.6" stroke-linecap="round"/>
<path d="M835.6,224.0 L843.8000000000001,229 L835.6,234.0" fill="none" stroke="#cd4c38" stroke-width="4" stroke-linecap="round" stroke-linejoin="round"/>
<path d="M799,318 L799.0,316.8 Q799,301.8 814.0,301.8 L898,301.8" fill="none" stroke="#cd4c38" stroke-width="3.6" stroke-linecap="round"/>
<path d="M891.0,296.8 L899.2,301.8 L891.0,306.8" fill="none" stroke="#cd4c38" stroke-width="4" stroke-linecap="round" stroke-linejoin="round"/>
<path d="M799,416 L799.0,415.7 Q799,400.7 814.0,400.7 L823,400.7" fill="none" stroke="#cd4c38" stroke-width="3.6" stroke-linecap="round"/>
<path d="M816.5,395.7 L824.7,400.7 L816.5,405.7" fill="none" stroke="#cd4c38" stroke-width="4" stroke-linecap="round" stroke-linejoin="round"/>
<path d="M596.5,576 L734.2,576 A20.25,20.25 0 0 1 734.2,616.5 L604,616.5" fill="none" stroke="#cd4c38" stroke-width="3.6"/>
<path d="M600,596.2 L805.0,596.2 Q827,596.2 827.0,574.2 L827.0,539.5 Q827,519.5 847.0,519.5 L850,519.5" fill="none" stroke="#cd4c38" stroke-width="3.6" stroke-linecap="round"/>
<path d="M843.4,514.5 L851.6,519.5 L843.4,524.5" fill="none" stroke="#cd4c38" stroke-width="4" stroke-linecap="round" stroke-linejoin="round"/>
<path d="M607,636.3 L742.3,636.3 Q755.3,636.3 755.3,649.3 L755.3,679.7 Q755.3,692.7 742.3,692.7 L604.7,692.7" fill="none" stroke="#cd4c38" stroke-width="3.6" stroke-linecap="round"/>
<path d="M607,653.2 L741.3,653.2 A11.25,11.25 0 0 1 741.3,675.7 L606,675.7" fill="none" stroke="#cd4c38" stroke-width="3.6"/>
<path d="M755,664.5 L833,664.5" fill="none" stroke="#cd4c38" stroke-width="3.6" stroke-linecap="round"/>
<path d="M827.0,659.5 L835.2,664.5 L827.0,669.5" fill="none" stroke="#cd4c38" stroke-width="4" stroke-linecap="round" stroke-linejoin="round"/>
<path d="M601.7,713 L732.75,713 A20.25,20.25 0 0 1 732.75,753.5 L595,753.5" fill="none" stroke="#cd4c38" stroke-width="3.6"/>
<path d="M599.5,732.5 L756.0,732.5 Q774,732.5 774.0,750.5 L774.0,862.0 Q774,880 792.0,880.0 L823,880" fill="none" stroke="#cd4c38" stroke-width="3.6" stroke-linecap="round"/>
<path d="M817.0,875.0 L825.2,880 L817.0,885.0" fill="none" stroke="#cd4c38" stroke-width="4" stroke-linecap="round" stroke-linejoin="round"/>
<path d="M774,758 L774.0,759.0 Q774,775 790.0,775.0 L819,775" fill="none" stroke="#cd4c38" stroke-width="3.6" stroke-linecap="round"/>
<path d="M813.0,770.0 L821.2,775 L813.0,780.0" fill="none" stroke="#cd4c38" stroke-width="4" stroke-linecap="round" stroke-linejoin="round"/>
<path d="M589.7,772.2 L733.8,772.2 Q753.75,772.2 753.8,792.2 L753.8,955.0 Q753.75,975 773.8,975.0 L890,975" fill="none" stroke="#cd4c38" stroke-width="3.6" stroke-linecap="round"/>
<path d="M883.75,970.0 L891.95,975 L883.75,980.0" fill="none" stroke="#cd4c38" stroke-width="4" stroke-linecap="round" stroke-linejoin="round"/>
<path d="M584.8,794.7 L707.8,794.7 Q733.75,794.7 733.8,820.7 L733.75,850" fill="none" stroke="#cd4c38" stroke-width="3.6" stroke-linecap="round"/>
<path d="M583.7,814.7 L707.8,814.7 Q733.75,814.7 733.8,840.7 L733.8,1007.5 Q733.75,1027.5 753.8,1027.5 L907,1027.5" fill="none" stroke="#cd4c38" stroke-width="3.6" stroke-linecap="round"/>
<path d="M900.5,1022.5 L908.7,1027.5 L900.5,1032.5" fill="none" stroke="#cd4c38" stroke-width="4" stroke-linecap="round" stroke-linejoin="round"/>
<path d="M848,1027.5 L850.0,1027.5 Q866,1027.5 866.0,1043.5 L866.0,1052.8 Q866,1068.75 850.0,1068.8 L804.8,1068.8 Q788.75,1068.75 788.8,1084.8 L788.75,1092" fill="none" stroke="#cd4c38" stroke-width="3.6" stroke-linecap="round"/>
<path d="M866,1050 L866.0,1052.8 Q866,1068.75 882.0,1068.8 L917.8,1068.8 Q933.75,1068.75 933.8,1084.8 L933.75,1092" fill="none" stroke="#cd4c38" stroke-width="3.6" stroke-linecap="round"/>
<path d="M783.75,1085.0 L788.75,1093.2 L793.75,1085.0" fill="none" stroke="#cd4c38" stroke-width="4" stroke-linecap="round" stroke-linejoin="round"/>
<path d="M928.75,1085.0 L933.75,1093.2 L938.75,1085.0" fill="none" stroke="#cd4c38" stroke-width="4" stroke-linecap="round" stroke-linejoin="round"/>
<circle cx="592" cy="556.8" r="4.6" fill="#cd4c38"/>
<circle cx="635.5" cy="556.8" r="4.6" fill="#cd4c38"/>
<circle cx="596.5" cy="576" r="4.6" fill="#cd4c38"/>
<circle cx="640.5" cy="576" r="4.6" fill="#cd4c38"/>
<circle cx="600" cy="596.2" r="4.6" fill="#cd4c38"/>
<circle cx="644" cy="596.2" r="4.6" fill="#cd4c38"/>
<circle cx="604" cy="616.5" r="4.6" fill="#cd4c38"/>
<circle cx="649" cy="616.5" r="4.6" fill="#cd4c38"/>
<circle cx="607" cy="636.3" r="4.6" fill="#cd4c38"/>
<circle cx="652" cy="636.3" r="4.6" fill="#cd4c38"/>
<circle cx="607" cy="653.2" r="4.6" fill="#cd4c38"/>
<circle cx="654.5" cy="653.2" r="4.6" fill="#cd4c38"/>
<circle cx="606" cy="675.7" r="4.6" fill="#cd4c38"/>
<circle cx="654" cy="675.7" r="4.6" fill="#cd4c38"/>
<circle cx="604.7" cy="692.7" r="4.6" fill="#cd4c38"/>
<circle cx="652" cy="692.7" r="4.6" fill="#cd4c38"/>
<circle cx="601.7" cy="713" r="4.6" fill="#cd4c38"/>
<circle cx="649.7" cy="713" r="4.6" fill="#cd4c38"/>
<circle cx="599.5" cy="732.5" r="4.6" fill="#cd4c38"/>
<circle cx="647.5" cy="732.5" r="4.6" fill="#cd4c38"/>
<circle cx="595" cy="753.5" r="4.6" fill="#cd4c38"/>
<circle cx="643" cy="753.5" r="4.6" fill="#cd4c38"/>
<circle cx="589.7" cy="772.2" r="4.6" fill="#cd4c38"/>
<circle cx="638.5" cy="772.2" r="4.6" fill="#cd4c38"/>
<circle cx="584.8" cy="794.7" r="4.6" fill="#cd4c38"/>
<circle cx="633.2" cy="794.7" r="4.6" fill="#cd4c38"/>
<circle cx="583.7" cy="814.7" r="4.6" fill="#cd4c38"/>
<circle cx="631.3" cy="814.7" r="4.6" fill="#cd4c38"/>
<text x="114.8" y="235.7" font-size="17" fill="#16609b" text-anchor="start" font-weight="bold" textLength="120.5" lengthAdjust="spacingAndGlyphs" stroke="#16609b" stroke-width="0.55">Constrict Pupils</text>
<text x="152.8" y="304.2" font-size="17" fill="#16609b" text-anchor="start" font-weight="bold" textLength="122.7" lengthAdjust="spacingAndGlyphs" stroke="#16609b" stroke-width="0.55">Stimulate Salvia</text>
<text x="71.9" y="406.3" font-size="17" fill="#16609b" text-anchor="start" font-weight="bold" textLength="132.8" lengthAdjust="spacingAndGlyphs" stroke="#16609b" stroke-width="0.55">Constrict Airways</text>
<text x="125" y="514.5" font-size="17" fill="#16609b" text-anchor="start" font-weight="bold" textLength="113.8" lengthAdjust="spacingAndGlyphs" stroke="#16609b" stroke-width="0.55">Slow Heartbeat</text>
<text x="95.8" y="640" font-size="17" fill="#16609b" text-anchor="start" font-weight="bold" textLength="136.8" lengthAdjust="spacingAndGlyphs" stroke="#16609b" stroke-width="0.55">Stimulate Activity</text>
<text x="122.5" y="657.5" font-size="17" fill="#16609b" text-anchor="start" font-weight="bold" textLength="83.0" lengthAdjust="spacingAndGlyphs" stroke="#16609b" stroke-width="0.55">of Stomach</text>
<text x="76" y="725.5" font-size="17" fill="#16609b" text-anchor="start" font-weight="bold" textLength="131" lengthAdjust="spacingAndGlyphs" stroke="#16609b" stroke-width="0.55">Inhibit Release of</text>
<text x="113.8" y="743.8" font-size="17" fill="#16609b" text-anchor="start" font-weight="bold" textLength="55.0" lengthAdjust="spacingAndGlyphs" stroke="#16609b" stroke-width="0.55">glucose</text>
<text x="60" y="762.5" font-size="17" fill="#16609b" text-anchor="start" font-weight="bold" textLength="162.5" lengthAdjust="spacingAndGlyphs" stroke="#16609b" stroke-width="0.55">Stimulate Gallbladder</text>
<text x="68.5" y="852.8" font-size="17" fill="#16609b" text-anchor="start" font-weight="bold" textLength="156.5" lengthAdjust="spacingAndGlyphs" stroke="#16609b" stroke-width="0.55">Stimulate Activity of</text>
<text x="109.4" y="871.7" font-size="17" fill="#16609b" text-anchor="start" font-weight="bold" textLength="75.8" lengthAdjust="spacingAndGlyphs" stroke="#16609b" stroke-width="0.55">Intestines</text>
<text x="117.7" y="1019" font-size="17" fill="#16609b" text-anchor="start" font-weight="bold" textLength="125.3" lengthAdjust="spacingAndGlyphs" stroke="#16609b" stroke-width="0.55">Contract Bladder</text>
<text x="195.8" y="1213.3" font-size="17" fill="#16609b" text-anchor="start" font-weight="bold" textLength="131.2" lengthAdjust="spacingAndGlyphs" stroke="#16609b" stroke-width="0.55">Promote Erection</text>
<text x="222" y="1232.5" font-size="17" fill="#16609b" text-anchor="start" font-weight="bold" textLength="78.8" lengthAdjust="spacingAndGlyphs" stroke="#16609b" stroke-width="0.55">of Genitals</text>
<text x="936.6" y="235" font-size="17" fill="#bd4b3b" text-anchor="start" font-weight="bold" textLength="96.3" lengthAdjust="spacingAndGlyphs" stroke="#bd4b3b" stroke-width="0.55">Dilate Pupils</text>
<text x="983.4" y="304.5" font-size="17" fill="#bd4b3b" text-anchor="start" font-weight="bold" textLength="131.7" lengthAdjust="spacingAndGlyphs" stroke="#bd4b3b" stroke-width="0.55">Inhibit Salivation</text>
<text x="959.4" y="405.6" font-size="17" fill="#bd4b3b" text-anchor="start" font-weight="bold" textLength="104.1" lengthAdjust="spacingAndGlyphs" stroke="#bd4b3b" stroke-width="0.55">Relax Airways</text>
<text x="933.6" y="514.7" font-size="17" fill="#bd4b3b" text-anchor="start" font-weight="bold" textLength="141.8" lengthAdjust="spacingAndGlyphs" stroke="#bd4b3b" stroke-width="0.55">Increase Heartbeat</text>
<text x="950.2" y="639.4" font-size="17" fill="#bd4b3b" text-anchor="start" font-weight="bold" textLength="134.3" lengthAdjust="spacingAndGlyphs" stroke="#bd4b3b" stroke-width="0.55">Inhibit Activity of</text>
<text x="984" y="657.5" font-size="17" fill="#bd4b3b" text-anchor="start" font-weight="bold" textLength="65.8" lengthAdjust="spacingAndGlyphs" stroke="#bd4b3b" stroke-width="0.55">Stomach</text>
<text x="954.7" y="725.4" font-size="17" fill="#bd4b3b" text-anchor="start" font-weight="bold" textLength="132.8" lengthAdjust="spacingAndGlyphs" stroke="#bd4b3b" stroke-width="0.55">Stimulate Release</text>
<text x="984" y="743.5" font-size="17" fill="#bd4b3b" text-anchor="start" font-weight="bold" textLength="74.2" lengthAdjust="spacingAndGlyphs" stroke="#bd4b3b" stroke-width="0.55">of glucose</text>
<text x="950.2" y="762.2" font-size="17" fill="#bd4b3b" text-anchor="start" font-weight="bold" textLength="141.8" lengthAdjust="spacingAndGlyphs" stroke="#bd4b3b" stroke-width="0.55">Inhibit Gallbladder</text>
<text x="955.6" y="852.1" font-size="17" fill="#bd4b3b" text-anchor="start" font-weight="bold" textLength="134.9" lengthAdjust="spacingAndGlyphs" stroke="#bd4b3b" stroke-width="0.55">Inhibit Activity of</text>
<text x="984.9" y="870.2" font-size="17" fill="#bd4b3b" text-anchor="start" font-weight="bold" textLength="76.3" lengthAdjust="spacingAndGlyphs" stroke="#bd4b3b" stroke-width="0.55">Intestines</text>
<text x="1022" y="960" font-size="17" fill="#bd4b3b" text-anchor="start" font-weight="bold" textLength="54" lengthAdjust="spacingAndGlyphs" stroke="#bd4b3b" stroke-width="0.55">Secrete</text>
<text x="988.2" y="978.5" font-size="17" fill="#bd4b3b" text-anchor="start" font-weight="bold" textLength="122.8" lengthAdjust="spacingAndGlyphs" stroke="#bd4b3b" stroke-width="0.55">Epinephrine and</text>
<text x="991.3" y="997" font-size="17" fill="#bd4b3b" text-anchor="start" font-weight="bold" textLength="115.7" lengthAdjust="spacingAndGlyphs" stroke="#bd4b3b" stroke-width="0.55">norepinephrine</text>
<text x="987.6" y="1040.2" font-size="17" fill="#bd4b3b" text-anchor="start" font-weight="bold" textLength="99.3" lengthAdjust="spacingAndGlyphs" stroke="#bd4b3b" stroke-width="0.55">Relax Bladder</text>
<text x="777" y="1214.4" font-size="17" fill="#bd4b3b" text-anchor="start" font-weight="bold" textLength="183.4" lengthAdjust="spacingAndGlyphs" stroke="#bd4b3b" stroke-width="0.55">Promote Ejaculation and</text>
<text x="790.8" y="1231.4" font-size="17" fill="#bd4b3b" text-anchor="start" font-weight="bold" textLength="156.7" lengthAdjust="spacingAndGlyphs" stroke="#bd4b3b" stroke-width="0.55">Vaginal Contractions</text>
</svg></body></html>
